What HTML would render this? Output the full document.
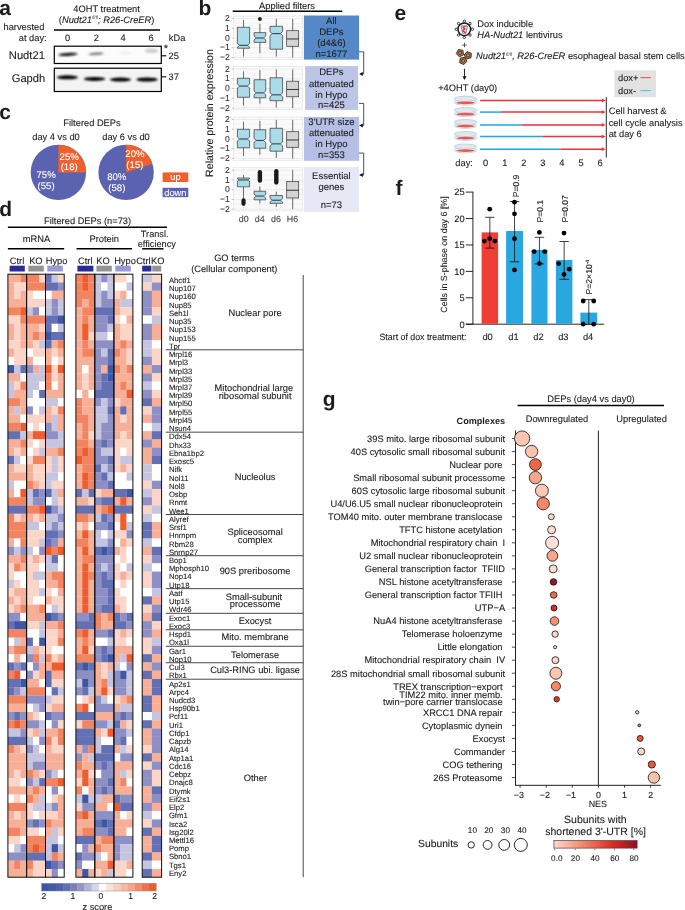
<!DOCTYPE html>
<html lang="en"><head><meta charset="utf-8"><title>Figure</title>
<style>
html,body{margin:0;padding:0;background:#fff;}
body{width:685px;height:910px;overflow:hidden;}
svg{display:block;font-family:"Liberation Sans", Arial, Helvetica, sans-serif;fill:#1c1c1c;text-rendering:geometricPrecision;}
</style></head><body>
<svg width="685" height="910" viewBox="0 0 685 910">
<defs>
<filter id="bl" x="-20%" y="-50%" width="140%" height="200%"><feGaussianBlur stdDeviation="1.1"/></filter>
<filter id="hb" x="0" y="0" width="100%" height="100%" filterUnits="userSpaceOnUse"><feGaussianBlur stdDeviation="0.55"/></filter>
<filter id="bl2" x="-20%" y="-50%" width="140%" height="200%"><feGaussianBlur stdDeviation="1.6"/></filter>
<linearGradient id="gr" x1="0" x2="1" y1="0" y2="0"><stop offset="0" stop-color="#fdd9cb"/><stop offset="0.35" stop-color="#f5876a"/><stop offset="0.7" stop-color="#dc2b27"/><stop offset="1" stop-color="#8e1220"/></linearGradient>
</defs>
<text x="-0.80" y="14.60" font-size="21" font-weight="bold">a</text>
<text x="198.60" y="15.00" font-size="21" font-weight="bold">b</text>
<text x="-0.80" y="118.80" font-size="21" font-weight="bold">c</text>
<text x="-0.80" y="215.80" font-size="21" font-weight="bold">d</text>
<text x="394.60" y="19.80" font-size="21" font-weight="bold">e</text>
<text x="395.60" y="195.00" font-size="21" font-weight="bold">f</text>
<text x="322.80" y="405.80" font-size="21" font-weight="bold">g</text>
<text x="106.60" y="11.50" font-size="9.3" text-anchor="middle" stroke="#1c1c1c" stroke-width="0.1">4OHT treatment</text>
<text x="106.60" y="22.60" font-size="9.3" text-anchor="middle" stroke="#1c1c1c" stroke-width="0.1">(<tspan font-style="italic">Nudt21<tspan font-size="4.8" dy="-3.2" stroke="none" fill="#444">fl/fl</tspan><tspan dy="3.2">; R26-CreER</tspan></tspan>)</text>
<line x1="54.00" y1="30.00" x2="160.00" y2="30.00" stroke="#000" stroke-width="1.5"/>
<text x="3.50" y="30.20" font-size="9.3" stroke="#1c1c1c" stroke-width="0.1">harvested</text>
<text x="46.70" y="41.40" font-size="9.3" text-anchor="end" stroke="#1c1c1c" stroke-width="0.1">at day:</text>
<text x="67.70" y="41.40" font-size="9.3" text-anchor="middle" stroke="#1c1c1c" stroke-width="0.1">0</text>
<text x="96.40" y="41.40" font-size="9.3" text-anchor="middle" stroke="#1c1c1c" stroke-width="0.1">2</text>
<text x="123.20" y="41.40" font-size="9.3" text-anchor="middle" stroke="#1c1c1c" stroke-width="0.1">4</text>
<text x="151.00" y="41.40" font-size="9.3" text-anchor="middle" stroke="#1c1c1c" stroke-width="0.1">6</text>
<text x="168.80" y="41.40" font-size="9.3" stroke="#1c1c1c" stroke-width="0.1">kDa</text>
<text x="8.80" y="58.60" font-size="11.2" stroke="#1c1c1c" stroke-width="0.1">Nudt21</text>
<text x="11.70" y="82.00" font-size="11.2" stroke="#1c1c1c" stroke-width="0.1">Gapdh</text>
<rect x="54.30" y="46.20" width="107.00" height="17.30" fill="#fcfcfc" stroke="#000" stroke-width="1.2"/>
<rect x="54.30" y="68.20" width="107.00" height="23.30" fill="#f3f3f3" stroke="#000" stroke-width="1.2"/>
<g filter="url(#bl)">
<ellipse cx="68" cy="54.4" rx="9.6" ry="1.5" fill="#0c0c0c" transform="rotate(-3 68 54.4)"/>
<ellipse cx="96" cy="53.8" rx="7.6" ry="1.3" fill="#7d7d7d" transform="rotate(-3 96 53.8)"/>
<ellipse cx="125" cy="52.8" rx="6" ry="0.9" fill="#e6e6e6"/>
<ellipse cx="151.5" cy="50.8" rx="7" ry="2.3" fill="#cfcfcf"/>
<ellipse cx="67.4" cy="77.3" rx="10.8" ry="2.0" fill="#050505"/>
<ellipse cx="94.5" cy="78.9" rx="10.8" ry="2.0" fill="#050505"/>
<ellipse cx="120.5" cy="79.6" rx="10.8" ry="2.0" fill="#050505"/>
<ellipse cx="147" cy="79.5" rx="10.8" ry="2.0" fill="#050505"/>
</g>
<text x="163.80" y="52.00" font-size="11" stroke="#1c1c1c" stroke-width="0.1">*</text>
<line x1="161.50" y1="55.80" x2="166.30" y2="55.80" stroke="#000" stroke-width="1.1"/>
<text x="168.50" y="59.20" font-size="9.3" stroke="#1c1c1c" stroke-width="0.1">25</text>
<line x1="161.50" y1="76.80" x2="166.30" y2="76.80" stroke="#000" stroke-width="1.1"/>
<text x="168.50" y="80.20" font-size="9.3" stroke="#1c1c1c" stroke-width="0.1">37</text>
<text x="92.00" y="125.60" font-size="9.3" text-anchor="middle" stroke="#1c1c1c" stroke-width="0.1">Filtered DEPs</text>
<text x="56.00" y="140.20" font-size="9.3" text-anchor="middle" stroke="#1c1c1c" stroke-width="0.1">day 4 vs d0</text>
<text x="126.00" y="140.20" font-size="9.3" text-anchor="middle" stroke="#1c1c1c" stroke-width="0.1">day 6 vs d0</text>
<circle cx="58.40" cy="172.40" r="27.70" fill="#5b62b0"/>
<path d="M58.4,172.4 L58.4,144.70000000000002 A27.7,27.7 0 0 1 86.10,172.40 Z" fill="#f0602c"/>
<circle cx="126.10" cy="172.40" r="27.70" fill="#5b62b0"/>
<path d="M126.1,172.4 L126.1,144.70000000000002 A27.7,27.7 0 0 1 152.44,163.84 Z" fill="#f0602c"/>
<text x="69.20" y="159.60" font-size="9.6" text-anchor="middle" fill="#ffffff" stroke="#ffffff" stroke-width="0.1">25%</text>
<text x="69.20" y="169.80" font-size="9.6" text-anchor="middle" fill="#ffffff" stroke="#ffffff" stroke-width="0.1">(18)</text>
<text x="46.10" y="177.70" font-size="9.6" text-anchor="middle" fill="#ffffff" stroke="#ffffff" stroke-width="0.1">75%</text>
<text x="46.10" y="188.80" font-size="9.6" text-anchor="middle" fill="#ffffff" stroke="#ffffff" stroke-width="0.1">(55)</text>
<text x="134.90" y="156.70" font-size="9.6" text-anchor="middle" fill="#ffffff" stroke="#ffffff" stroke-width="0.1">20%</text>
<text x="134.90" y="167.50" font-size="9.6" text-anchor="middle" fill="#ffffff" stroke="#ffffff" stroke-width="0.1">(15)</text>
<text x="116.80" y="179.50" font-size="9.6" text-anchor="middle" fill="#ffffff" stroke="#ffffff" stroke-width="0.1">80%</text>
<text x="116.80" y="190.80" font-size="9.6" text-anchor="middle" fill="#ffffff" stroke="#ffffff" stroke-width="0.1">(58)</text>
<rect x="162.60" y="172.40" width="25.70" height="9.60" fill="#f0602c"/>
<text x="175.40" y="179.80" font-size="9.3" text-anchor="middle" fill="#ffffff" stroke="#ffffff" stroke-width="0.1">up</text>
<rect x="162.60" y="187.80" width="25.70" height="9.40" fill="#5b62b0"/>
<text x="175.40" y="195.60" font-size="9.3" text-anchor="middle" fill="#ffffff" stroke="#ffffff" stroke-width="0.1">down</text>
<text x="287.00" y="8.60" font-size="9.3" text-anchor="middle" stroke="#1c1c1c" stroke-width="0.1">Applied filters</text>
<line x1="232.70" y1="11.20" x2="342.20" y2="11.20" stroke="#000" stroke-width="1.5"/>
<text x="213.20" y="113.00" font-size="10.6" text-anchor="middle" stroke="#1c1c1c" stroke-width="0.1" transform="rotate(-90 213.20 113.00)">Relative protein expression</text>
<rect x="233.60" y="16.00" width="68.60" height="43.30" fill="#fafafa" stroke="#d9d9d9" stroke-width="0.5"/>
<line x1="233.60" y1="57.50" x2="302.20" y2="57.50" stroke="#dedede" stroke-width="0.5"/>
<line x1="231.60" y1="57.50" x2="233.60" y2="57.50" stroke="#888" stroke-width="0.5"/>
<text x="229.80" y="60.10" font-size="8.6" text-anchor="end" fill="#333" stroke="#333" stroke-width="0.1">−2</text>
<line x1="233.60" y1="47.75" x2="302.20" y2="47.75" stroke="#dedede" stroke-width="0.5"/>
<line x1="231.60" y1="47.75" x2="233.60" y2="47.75" stroke="#888" stroke-width="0.5"/>
<text x="229.80" y="50.35" font-size="8.6" text-anchor="end" fill="#333" stroke="#333" stroke-width="0.1">−1</text>
<line x1="233.60" y1="38.00" x2="302.20" y2="38.00" stroke="#dedede" stroke-width="0.5"/>
<line x1="231.60" y1="38.00" x2="233.60" y2="38.00" stroke="#888" stroke-width="0.5"/>
<text x="229.80" y="40.60" font-size="8.6" text-anchor="end" fill="#333" stroke="#333" stroke-width="0.1">0</text>
<line x1="233.60" y1="28.25" x2="302.20" y2="28.25" stroke="#dedede" stroke-width="0.5"/>
<line x1="231.60" y1="28.25" x2="233.60" y2="28.25" stroke="#888" stroke-width="0.5"/>
<text x="229.80" y="30.85" font-size="8.6" text-anchor="end" fill="#333" stroke="#333" stroke-width="0.1">1</text>
<line x1="233.60" y1="18.50" x2="302.20" y2="18.50" stroke="#dedede" stroke-width="0.5"/>
<line x1="231.60" y1="18.50" x2="233.60" y2="18.50" stroke="#888" stroke-width="0.5"/>
<text x="229.80" y="21.10" font-size="8.6" text-anchor="end" fill="#333" stroke="#333" stroke-width="0.1">2</text>
<line x1="233.60" y1="52.62" x2="302.20" y2="52.62" stroke="#e6e6e6" stroke-width="0.3"/>
<line x1="233.60" y1="42.88" x2="302.20" y2="42.88" stroke="#e6e6e6" stroke-width="0.3"/>
<line x1="233.60" y1="33.12" x2="302.20" y2="33.12" stroke="#e6e6e6" stroke-width="0.3"/>
<line x1="233.60" y1="23.38" x2="302.20" y2="23.38" stroke="#e6e6e6" stroke-width="0.3"/>
<line x1="243.50" y1="16.00" x2="243.50" y2="59.30" stroke="#dedede" stroke-width="0.5"/>
<line x1="259.90" y1="16.00" x2="259.90" y2="59.30" stroke="#dedede" stroke-width="0.5"/>
<line x1="276.30" y1="16.00" x2="276.30" y2="59.30" stroke="#dedede" stroke-width="0.5"/>
<line x1="292.70" y1="16.00" x2="292.70" y2="59.30" stroke="#dedede" stroke-width="0.5"/>
<line x1="243.50" y1="19.96" x2="243.50" y2="27.27" stroke="#333" stroke-width="0.7"/>
<line x1="243.50" y1="48.24" x2="243.50" y2="56.52" stroke="#333" stroke-width="0.7"/>
<polygon points="237.40,27.27 249.60,27.27 249.60,43.56 247.28,45.31 249.60,47.07 249.60,48.24 237.40,48.24 237.40,47.07 239.72,45.31 237.40,43.56" fill="#a9dbe8" stroke="#333" stroke-width="0.7"/>
<line x1="239.72" y1="45.31" x2="247.28" y2="45.31" stroke="#222" stroke-width="0.9"/>
<line x1="259.90" y1="23.86" x2="259.90" y2="32.64" stroke="#333" stroke-width="0.7"/>
<line x1="259.90" y1="42.39" x2="259.90" y2="53.11" stroke="#333" stroke-width="0.7"/>
<polygon points="254.05,32.64 265.75,32.64 265.75,36.05 263.53,38.00 265.75,39.95 265.75,42.39 254.05,42.39 254.05,39.95 256.27,38.00 254.05,36.05" fill="#a9dbe8" stroke="#333" stroke-width="0.7"/>
<line x1="256.27" y1="38.00" x2="263.53" y2="38.00" stroke="#222" stroke-width="0.9"/>
<line x1="276.30" y1="18.99" x2="276.30" y2="26.30" stroke="#333" stroke-width="0.7"/>
<line x1="276.30" y1="49.21" x2="276.30" y2="56.52" stroke="#333" stroke-width="0.7"/>
<polygon points="270.00,26.30 282.60,26.30 282.60,31.66 280.21,33.61 282.60,35.56 282.60,49.21 270.00,49.21 270.00,35.56 272.39,33.61 270.00,31.66" fill="#a9dbe8" stroke="#333" stroke-width="0.7"/>
<line x1="272.39" y1="33.61" x2="280.21" y2="33.61" stroke="#222" stroke-width="0.9"/>
<line x1="292.70" y1="18.99" x2="292.70" y2="30.69" stroke="#333" stroke-width="0.7"/>
<line x1="292.70" y1="46.29" x2="292.70" y2="57.50" stroke="#333" stroke-width="0.7"/>
<rect x="286.70" y="30.69" width="12.00" height="15.60" fill="#d4d4d4" stroke="#333" stroke-width="0.7"/>
<line x1="286.70" y1="38.98" x2="298.70" y2="38.98" stroke="#222" stroke-width="0.9"/>
<circle cx="259.90" cy="18.99" r="2.00" fill="#222"/>
<rect x="303.90" y="15.50" width="55.20" height="44.10" fill="#5488c7"/>
<text x="331.40" y="23.80" font-size="9.5" text-anchor="middle" fill="#222" stroke="#222" stroke-width="0.1">All</text>
<text x="331.40" y="34.80" font-size="9.5" text-anchor="middle" fill="#222" stroke="#222" stroke-width="0.1">DEPs</text>
<text x="331.40" y="46.00" font-size="9.5" text-anchor="middle" fill="#222" stroke="#222" stroke-width="0.1">(d4&amp;6)</text>
<text x="331.40" y="56.70" font-size="9.5" text-anchor="middle" fill="#222" stroke="#222" stroke-width="0.1">n=1677</text>
<rect x="233.60" y="66.50" width="68.60" height="43.30" fill="#fafafa" stroke="#d9d9d9" stroke-width="0.5"/>
<line x1="233.60" y1="108.00" x2="302.20" y2="108.00" stroke="#dedede" stroke-width="0.5"/>
<line x1="231.60" y1="108.00" x2="233.60" y2="108.00" stroke="#888" stroke-width="0.5"/>
<text x="229.80" y="110.60" font-size="8.6" text-anchor="end" fill="#333" stroke="#333" stroke-width="0.1">−2</text>
<line x1="233.60" y1="98.25" x2="302.20" y2="98.25" stroke="#dedede" stroke-width="0.5"/>
<line x1="231.60" y1="98.25" x2="233.60" y2="98.25" stroke="#888" stroke-width="0.5"/>
<text x="229.80" y="100.85" font-size="8.6" text-anchor="end" fill="#333" stroke="#333" stroke-width="0.1">−1</text>
<line x1="233.60" y1="88.50" x2="302.20" y2="88.50" stroke="#dedede" stroke-width="0.5"/>
<line x1="231.60" y1="88.50" x2="233.60" y2="88.50" stroke="#888" stroke-width="0.5"/>
<text x="229.80" y="91.10" font-size="8.6" text-anchor="end" fill="#333" stroke="#333" stroke-width="0.1">0</text>
<line x1="233.60" y1="78.75" x2="302.20" y2="78.75" stroke="#dedede" stroke-width="0.5"/>
<line x1="231.60" y1="78.75" x2="233.60" y2="78.75" stroke="#888" stroke-width="0.5"/>
<text x="229.80" y="81.35" font-size="8.6" text-anchor="end" fill="#333" stroke="#333" stroke-width="0.1">1</text>
<line x1="233.60" y1="69.00" x2="302.20" y2="69.00" stroke="#dedede" stroke-width="0.5"/>
<line x1="231.60" y1="69.00" x2="233.60" y2="69.00" stroke="#888" stroke-width="0.5"/>
<text x="229.80" y="71.60" font-size="8.6" text-anchor="end" fill="#333" stroke="#333" stroke-width="0.1">2</text>
<line x1="233.60" y1="103.12" x2="302.20" y2="103.12" stroke="#e6e6e6" stroke-width="0.3"/>
<line x1="233.60" y1="93.38" x2="302.20" y2="93.38" stroke="#e6e6e6" stroke-width="0.3"/>
<line x1="233.60" y1="83.62" x2="302.20" y2="83.62" stroke="#e6e6e6" stroke-width="0.3"/>
<line x1="233.60" y1="73.88" x2="302.20" y2="73.88" stroke="#e6e6e6" stroke-width="0.3"/>
<line x1="243.50" y1="66.50" x2="243.50" y2="109.80" stroke="#dedede" stroke-width="0.5"/>
<line x1="259.90" y1="66.50" x2="259.90" y2="109.80" stroke="#dedede" stroke-width="0.5"/>
<line x1="276.30" y1="66.50" x2="276.30" y2="109.80" stroke="#dedede" stroke-width="0.5"/>
<line x1="292.70" y1="66.50" x2="292.70" y2="109.80" stroke="#dedede" stroke-width="0.5"/>
<line x1="243.50" y1="71.44" x2="243.50" y2="78.26" stroke="#333" stroke-width="0.7"/>
<line x1="243.50" y1="97.28" x2="243.50" y2="105.56" stroke="#333" stroke-width="0.7"/>
<polygon points="237.40,78.26 249.60,78.26 249.60,84.11 247.28,86.06 249.60,88.01 249.60,97.28 237.40,97.28 237.40,88.01 239.72,86.06 237.40,84.11" fill="#a9dbe8" stroke="#333" stroke-width="0.7"/>
<line x1="239.72" y1="86.06" x2="247.28" y2="86.06" stroke="#222" stroke-width="0.9"/>
<line x1="259.90" y1="69.97" x2="259.90" y2="79.72" stroke="#333" stroke-width="0.7"/>
<line x1="259.90" y1="97.76" x2="259.90" y2="103.61" stroke="#333" stroke-width="0.7"/>
<polygon points="254.05,79.72 265.75,79.72 265.75,90.94 263.53,92.89 265.75,94.84 265.75,97.76 254.05,97.76 254.05,94.84 256.27,92.89 254.05,90.94" fill="#a9dbe8" stroke="#333" stroke-width="0.7"/>
<line x1="256.27" y1="92.89" x2="263.53" y2="92.89" stroke="#222" stroke-width="0.9"/>
<line x1="276.30" y1="69.49" x2="276.30" y2="77.78" stroke="#333" stroke-width="0.7"/>
<line x1="276.30" y1="100.69" x2="276.30" y2="107.51" stroke="#333" stroke-width="0.7"/>
<polygon points="270.00,77.78 282.60,77.78 282.60,92.89 280.21,94.84 282.60,96.79 282.60,100.69 270.00,100.69 270.00,96.79 272.39,94.84 270.00,92.89" fill="#a9dbe8" stroke="#333" stroke-width="0.7"/>
<line x1="272.39" y1="94.84" x2="280.21" y2="94.84" stroke="#222" stroke-width="0.9"/>
<line x1="292.70" y1="69.49" x2="292.70" y2="81.19" stroke="#333" stroke-width="0.7"/>
<line x1="292.70" y1="96.79" x2="292.70" y2="108.00" stroke="#333" stroke-width="0.7"/>
<rect x="286.70" y="81.19" width="12.00" height="15.60" fill="#d4d4d4" stroke="#333" stroke-width="0.7"/>
<line x1="286.70" y1="89.47" x2="298.70" y2="89.47" stroke="#222" stroke-width="0.9"/>
<rect x="305.10" y="66.10" width="53.00" height="43.80" fill="#bcc5e6"/>
<text x="331.40" y="75.40" font-size="9.5" text-anchor="middle" fill="#222" stroke="#222" stroke-width="0.1">DEPs</text>
<text x="331.40" y="87.10" font-size="9.5" text-anchor="middle" fill="#222" stroke="#222" stroke-width="0.1">attenuated</text>
<text x="331.40" y="98.40" font-size="9.5" text-anchor="middle" fill="#222" stroke="#222" stroke-width="0.1">in Hypo</text>
<text x="331.40" y="107.50" font-size="9.5" text-anchor="middle" fill="#222" stroke="#222" stroke-width="0.1">n=425</text>
<rect x="233.60" y="117.00" width="68.60" height="43.30" fill="#fafafa" stroke="#d9d9d9" stroke-width="0.5"/>
<line x1="233.60" y1="158.50" x2="302.20" y2="158.50" stroke="#dedede" stroke-width="0.5"/>
<line x1="231.60" y1="158.50" x2="233.60" y2="158.50" stroke="#888" stroke-width="0.5"/>
<text x="229.80" y="161.10" font-size="8.6" text-anchor="end" fill="#333" stroke="#333" stroke-width="0.1">−2</text>
<line x1="233.60" y1="148.75" x2="302.20" y2="148.75" stroke="#dedede" stroke-width="0.5"/>
<line x1="231.60" y1="148.75" x2="233.60" y2="148.75" stroke="#888" stroke-width="0.5"/>
<text x="229.80" y="151.35" font-size="8.6" text-anchor="end" fill="#333" stroke="#333" stroke-width="0.1">−1</text>
<line x1="233.60" y1="139.00" x2="302.20" y2="139.00" stroke="#dedede" stroke-width="0.5"/>
<line x1="231.60" y1="139.00" x2="233.60" y2="139.00" stroke="#888" stroke-width="0.5"/>
<text x="229.80" y="141.60" font-size="8.6" text-anchor="end" fill="#333" stroke="#333" stroke-width="0.1">0</text>
<line x1="233.60" y1="129.25" x2="302.20" y2="129.25" stroke="#dedede" stroke-width="0.5"/>
<line x1="231.60" y1="129.25" x2="233.60" y2="129.25" stroke="#888" stroke-width="0.5"/>
<text x="229.80" y="131.85" font-size="8.6" text-anchor="end" fill="#333" stroke="#333" stroke-width="0.1">1</text>
<line x1="233.60" y1="119.50" x2="302.20" y2="119.50" stroke="#dedede" stroke-width="0.5"/>
<line x1="231.60" y1="119.50" x2="233.60" y2="119.50" stroke="#888" stroke-width="0.5"/>
<text x="229.80" y="122.10" font-size="8.6" text-anchor="end" fill="#333" stroke="#333" stroke-width="0.1">2</text>
<line x1="233.60" y1="153.62" x2="302.20" y2="153.62" stroke="#e6e6e6" stroke-width="0.3"/>
<line x1="233.60" y1="143.88" x2="302.20" y2="143.88" stroke="#e6e6e6" stroke-width="0.3"/>
<line x1="233.60" y1="134.12" x2="302.20" y2="134.12" stroke="#e6e6e6" stroke-width="0.3"/>
<line x1="233.60" y1="124.38" x2="302.20" y2="124.38" stroke="#e6e6e6" stroke-width="0.3"/>
<line x1="243.50" y1="117.00" x2="243.50" y2="160.30" stroke="#dedede" stroke-width="0.5"/>
<line x1="259.90" y1="117.00" x2="259.90" y2="160.30" stroke="#dedede" stroke-width="0.5"/>
<line x1="276.30" y1="117.00" x2="276.30" y2="160.30" stroke="#dedede" stroke-width="0.5"/>
<line x1="292.70" y1="117.00" x2="292.70" y2="160.30" stroke="#dedede" stroke-width="0.5"/>
<line x1="243.50" y1="121.94" x2="243.50" y2="129.25" stroke="#333" stroke-width="0.7"/>
<line x1="243.50" y1="147.78" x2="243.50" y2="156.06" stroke="#333" stroke-width="0.7"/>
<polygon points="237.40,129.25 249.60,129.25 249.60,137.05 247.28,139.00 249.60,140.95 249.60,147.78 237.40,147.78 237.40,140.95 239.72,139.00 237.40,137.05" fill="#a9dbe8" stroke="#333" stroke-width="0.7"/>
<line x1="239.72" y1="139.00" x2="247.28" y2="139.00" stroke="#222" stroke-width="0.9"/>
<line x1="259.90" y1="120.96" x2="259.90" y2="129.74" stroke="#333" stroke-width="0.7"/>
<line x1="259.90" y1="148.26" x2="259.90" y2="154.60" stroke="#333" stroke-width="0.7"/>
<polygon points="254.05,129.74 265.75,129.74 265.75,138.51 263.53,140.46 265.75,142.41 265.75,148.26 254.05,148.26 254.05,142.41 256.27,140.46 254.05,138.51" fill="#a9dbe8" stroke="#333" stroke-width="0.7"/>
<line x1="256.27" y1="140.46" x2="263.53" y2="140.46" stroke="#222" stroke-width="0.9"/>
<line x1="276.30" y1="119.99" x2="276.30" y2="128.28" stroke="#333" stroke-width="0.7"/>
<line x1="276.30" y1="151.19" x2="276.30" y2="158.01" stroke="#333" stroke-width="0.7"/>
<polygon points="270.00,128.28 282.60,128.28 282.60,141.93 280.21,143.88 282.60,145.82 282.60,151.19 270.00,151.19 270.00,145.82 272.39,143.88 270.00,141.93" fill="#a9dbe8" stroke="#333" stroke-width="0.7"/>
<line x1="272.39" y1="143.88" x2="280.21" y2="143.88" stroke="#222" stroke-width="0.9"/>
<line x1="292.70" y1="119.99" x2="292.70" y2="131.69" stroke="#333" stroke-width="0.7"/>
<line x1="292.70" y1="147.29" x2="292.70" y2="158.50" stroke="#333" stroke-width="0.7"/>
<rect x="286.70" y="131.69" width="12.00" height="15.60" fill="#d4d4d4" stroke="#333" stroke-width="0.7"/>
<line x1="286.70" y1="139.97" x2="298.70" y2="139.97" stroke="#222" stroke-width="0.9"/>
<rect x="303.90" y="116.90" width="55.20" height="43.90" fill="#b5bfe5"/>
<text x="331.40" y="124.60" font-size="9.5" text-anchor="middle" fill="#222" stroke="#222" stroke-width="0.1">3'UTR size</text>
<text x="331.40" y="135.90" font-size="9.5" text-anchor="middle" fill="#222" stroke="#222" stroke-width="0.1">attenuated</text>
<text x="331.40" y="146.70" font-size="9.5" text-anchor="middle" fill="#222" stroke="#222" stroke-width="0.1">in Hypo</text>
<text x="331.40" y="157.50" font-size="9.5" text-anchor="middle" fill="#222" stroke="#222" stroke-width="0.1">n=353</text>
<rect x="233.60" y="167.70" width="68.60" height="43.30" fill="#fafafa" stroke="#d9d9d9" stroke-width="0.5"/>
<line x1="233.60" y1="209.20" x2="302.20" y2="209.20" stroke="#dedede" stroke-width="0.5"/>
<line x1="231.60" y1="209.20" x2="233.60" y2="209.20" stroke="#888" stroke-width="0.5"/>
<text x="229.80" y="211.80" font-size="8.6" text-anchor="end" fill="#333" stroke="#333" stroke-width="0.1">−2</text>
<line x1="233.60" y1="199.45" x2="302.20" y2="199.45" stroke="#dedede" stroke-width="0.5"/>
<line x1="231.60" y1="199.45" x2="233.60" y2="199.45" stroke="#888" stroke-width="0.5"/>
<text x="229.80" y="202.05" font-size="8.6" text-anchor="end" fill="#333" stroke="#333" stroke-width="0.1">−1</text>
<line x1="233.60" y1="189.70" x2="302.20" y2="189.70" stroke="#dedede" stroke-width="0.5"/>
<line x1="231.60" y1="189.70" x2="233.60" y2="189.70" stroke="#888" stroke-width="0.5"/>
<text x="229.80" y="192.30" font-size="8.6" text-anchor="end" fill="#333" stroke="#333" stroke-width="0.1">0</text>
<line x1="233.60" y1="179.95" x2="302.20" y2="179.95" stroke="#dedede" stroke-width="0.5"/>
<line x1="231.60" y1="179.95" x2="233.60" y2="179.95" stroke="#888" stroke-width="0.5"/>
<text x="229.80" y="182.55" font-size="8.6" text-anchor="end" fill="#333" stroke="#333" stroke-width="0.1">1</text>
<line x1="233.60" y1="170.20" x2="302.20" y2="170.20" stroke="#dedede" stroke-width="0.5"/>
<line x1="231.60" y1="170.20" x2="233.60" y2="170.20" stroke="#888" stroke-width="0.5"/>
<text x="229.80" y="172.80" font-size="8.6" text-anchor="end" fill="#333" stroke="#333" stroke-width="0.1">2</text>
<line x1="233.60" y1="204.32" x2="302.20" y2="204.32" stroke="#e6e6e6" stroke-width="0.3"/>
<line x1="233.60" y1="194.57" x2="302.20" y2="194.57" stroke="#e6e6e6" stroke-width="0.3"/>
<line x1="233.60" y1="184.82" x2="302.20" y2="184.82" stroke="#e6e6e6" stroke-width="0.3"/>
<line x1="233.60" y1="175.07" x2="302.20" y2="175.07" stroke="#e6e6e6" stroke-width="0.3"/>
<line x1="243.50" y1="167.70" x2="243.50" y2="211.00" stroke="#dedede" stroke-width="0.5"/>
<line x1="259.90" y1="167.70" x2="259.90" y2="211.00" stroke="#dedede" stroke-width="0.5"/>
<line x1="276.30" y1="167.70" x2="276.30" y2="211.00" stroke="#dedede" stroke-width="0.5"/>
<line x1="292.70" y1="167.70" x2="292.70" y2="211.00" stroke="#dedede" stroke-width="0.5"/>
<line x1="243.50" y1="175.07" x2="243.50" y2="178.00" stroke="#333" stroke-width="0.7"/>
<line x1="243.50" y1="186.87" x2="243.50" y2="198.47" stroke="#333" stroke-width="0.7"/>
<polygon points="237.40,178.00 249.60,178.00 249.60,178.78 247.28,179.95 249.60,181.12 249.60,186.87 237.40,186.87 237.40,181.12 239.72,179.95 237.40,178.78" fill="#a9dbe8" stroke="#333" stroke-width="0.7"/>
<line x1="239.72" y1="179.95" x2="247.28" y2="179.95" stroke="#222" stroke-width="0.9"/>
<line x1="259.90" y1="186.48" x2="259.90" y2="191.26" stroke="#333" stroke-width="0.7"/>
<line x1="259.90" y1="199.84" x2="259.90" y2="203.35" stroke="#333" stroke-width="0.7"/>
<polygon points="254.05,191.26 265.75,191.26 265.75,194.09 263.53,196.04 265.75,197.99 265.75,199.84 254.05,199.84 254.05,197.99 256.27,196.04 254.05,194.09" fill="#a9dbe8" stroke="#333" stroke-width="0.7"/>
<line x1="256.27" y1="196.04" x2="263.53" y2="196.04" stroke="#222" stroke-width="0.9"/>
<line x1="276.30" y1="191.65" x2="276.30" y2="195.55" stroke="#333" stroke-width="0.7"/>
<line x1="276.30" y1="203.35" x2="276.30" y2="206.96" stroke="#333" stroke-width="0.7"/>
<polygon points="270.00,195.55 282.60,195.55 282.60,198.36 280.21,200.23 282.60,202.10 282.60,203.35 270.00,203.35 270.00,202.10 272.39,200.23 270.00,198.36" fill="#a9dbe8" stroke="#333" stroke-width="0.7"/>
<line x1="272.39" y1="200.23" x2="280.21" y2="200.23" stroke="#222" stroke-width="0.9"/>
<line x1="292.70" y1="170.20" x2="292.70" y2="181.61" stroke="#333" stroke-width="0.7"/>
<line x1="292.70" y1="197.99" x2="292.70" y2="209.20" stroke="#333" stroke-width="0.7"/>
<rect x="286.70" y="181.61" width="12.00" height="16.38" fill="#d4d4d4" stroke="#333" stroke-width="0.7"/>
<line x1="286.70" y1="190.28" x2="298.70" y2="190.28" stroke="#222" stroke-width="0.9"/>
<line x1="243.50" y1="200.42" x2="243.50" y2="203.84" stroke="#1a1a1a" stroke-width="4.2" stroke-linecap="round"/>
<line x1="259.90" y1="180.44" x2="259.90" y2="172.15" stroke="#1a1a1a" stroke-width="4.4" stroke-linecap="round"/>
<line x1="276.30" y1="182.39" x2="276.30" y2="171.17" stroke="#1a1a1a" stroke-width="4.4" stroke-linecap="round"/>
<rect x="303.90" y="167.10" width="55.20" height="44.80" fill="#e6e8f6"/>
<text x="331.40" y="178.80" font-size="9.5" text-anchor="middle" fill="#222" stroke="#222" stroke-width="0.1">Essential</text>
<text x="331.40" y="190.00" font-size="9.5" text-anchor="middle" fill="#222" stroke="#222" stroke-width="0.1">genes</text>
<text x="331.40" y="207.50" font-size="9.5" text-anchor="middle" fill="#222" stroke="#222" stroke-width="0.1">n=73</text>
<text x="243.70" y="222.10" font-size="8.9" text-anchor="middle" fill="#444" stroke="#444" stroke-width="0.1">d0</text>
<text x="259.80" y="222.10" font-size="8.9" text-anchor="middle" fill="#444" stroke="#444" stroke-width="0.1">d4</text>
<text x="275.90" y="222.10" font-size="8.9" text-anchor="middle" fill="#444" stroke="#444" stroke-width="0.1">d6</text>
<text x="292.40" y="222.10" font-size="8.9" text-anchor="middle" fill="#444" stroke="#444" stroke-width="0.1">H6</text>
<path d="M359.1,51.8 H363.7 V73.9 H361.5" fill="none" stroke="#222" stroke-width="0.8"/>
<path d="M359.2,73.9 l3.6,-2 v4 z" fill="#111"/>
<path d="M359.1,103.4 H363.7 V125.4 H361.5" fill="none" stroke="#222" stroke-width="0.8"/>
<path d="M359.2,125.4 l3.6,-2 v4 z" fill="#111"/>
<path d="M359.1,153.1 H363.7 V175.1 H361.5" fill="none" stroke="#222" stroke-width="0.8"/>
<path d="M359.2,175.1 l3.6,-2 v4 z" fill="#111"/>
<text x="87.60" y="223.70" font-size="9.3" text-anchor="middle" stroke="#1c1c1c" stroke-width="0.1">Filtered DEPs (n=73)</text>
<line x1="7.90" y1="227.20" x2="167.00" y2="227.20" stroke="#000" stroke-width="1.5"/>
<text x="36.50" y="241.80" font-size="9.3" text-anchor="middle" stroke="#1c1c1c" stroke-width="0.1">mRNA</text>
<text x="104.20" y="241.80" font-size="9.3" text-anchor="middle" stroke="#1c1c1c" stroke-width="0.1">Protein</text>
<text x="154.70" y="236.80" font-size="9.2" text-anchor="middle" stroke="#1c1c1c" stroke-width="0.1">Transl.</text>
<text x="156.80" y="246.90" font-size="9.2" text-anchor="middle" stroke="#1c1c1c" stroke-width="0.1">efficiency</text>
<line x1="7.90" y1="248.80" x2="64.20" y2="248.80" stroke="#000" stroke-width="1.5"/>
<line x1="76.50" y1="248.80" x2="132.00" y2="248.80" stroke="#000" stroke-width="1.5"/>
<line x1="142.20" y1="248.80" x2="163.50" y2="248.80" stroke="#000" stroke-width="1.5"/>
<text x="17.00" y="263.60" font-size="9.3" text-anchor="middle" stroke="#1c1c1c" stroke-width="0.1">Ctrl</text>
<text x="35.90" y="263.60" font-size="9.3" text-anchor="middle" stroke="#1c1c1c" stroke-width="0.1">KO</text>
<text x="56.60" y="263.60" font-size="9.3" text-anchor="middle" stroke="#1c1c1c" stroke-width="0.1">Hypo</text>
<text x="85.30" y="263.60" font-size="9.3" text-anchor="middle" stroke="#1c1c1c" stroke-width="0.1">Ctrl</text>
<text x="103.00" y="263.60" font-size="9.3" text-anchor="middle" stroke="#1c1c1c" stroke-width="0.1">KO</text>
<text x="125.00" y="263.60" font-size="9.3" text-anchor="middle" stroke="#1c1c1c" stroke-width="0.1">Hypo</text>
<text x="143.40" y="263.60" font-size="9.3" text-anchor="middle" stroke="#1c1c1c" stroke-width="0.1">Ctrl</text>
<text x="157.80" y="263.60" font-size="9.3" text-anchor="middle" stroke="#1c1c1c" stroke-width="0.1">KO</text>
<rect x="9.60" y="265.70" width="15.20" height="5.80" fill="#2b2b96"/>
<rect x="28.30" y="265.70" width="15.50" height="5.80" fill="#939393"/>
<rect x="47.30" y="265.70" width="15.50" height="5.80" fill="#9b98d6"/>
<rect x="77.40" y="265.70" width="16.00" height="5.80" fill="#2b2b96"/>
<rect x="96.40" y="265.70" width="15.40" height="5.80" fill="#939393"/>
<rect x="115.30" y="265.70" width="15.50" height="5.80" fill="#9b98d6"/>
<rect x="142.20" y="265.70" width="9.20" height="5.80" fill="#2b2b96"/>
<rect x="152.20" y="265.70" width="9.00" height="5.80" fill="#939393"/>
<text x="234.30" y="261.20" font-size="9.3" text-anchor="middle" stroke="#1c1c1c" stroke-width="0.1">GO terms</text>
<text x="234.30" y="272.40" font-size="9.3" text-anchor="middle" stroke="#1c1c1c" stroke-width="0.1">(Cellular component)</text>
<text x="168.90" y="282.95" font-size="7.7" stroke="#1c1c1c" stroke-width="0.1">Ahctf1</text>
<text x="168.90" y="291.19" font-size="7.7" stroke="#1c1c1c" stroke-width="0.1">Nup107</text>
<text x="168.90" y="299.42" font-size="7.7" stroke="#1c1c1c" stroke-width="0.1">Nup160</text>
<text x="168.90" y="307.66" font-size="7.7" stroke="#1c1c1c" stroke-width="0.1">Nup85</text>
<text x="168.90" y="315.89" font-size="7.7" stroke="#1c1c1c" stroke-width="0.1">Seh1l</text>
<text x="168.90" y="324.13" font-size="7.7" stroke="#1c1c1c" stroke-width="0.1">Nup35</text>
<text x="168.90" y="332.37" font-size="7.7" stroke="#1c1c1c" stroke-width="0.1">Nup153</text>
<text x="168.90" y="340.60" font-size="7.7" stroke="#1c1c1c" stroke-width="0.1">Nup155</text>
<text x="168.90" y="348.84" font-size="7.7" stroke="#1c1c1c" stroke-width="0.1">Tpr</text>
<text x="168.90" y="357.07" font-size="7.7" stroke="#1c1c1c" stroke-width="0.1">Mrpl16</text>
<text x="168.90" y="365.31" font-size="7.7" stroke="#1c1c1c" stroke-width="0.1">Mrpl3</text>
<text x="168.90" y="373.55" font-size="7.7" stroke="#1c1c1c" stroke-width="0.1">Mrpl33</text>
<text x="168.90" y="381.78" font-size="7.7" stroke="#1c1c1c" stroke-width="0.1">Mrpl35</text>
<text x="168.90" y="390.02" font-size="7.7" stroke="#1c1c1c" stroke-width="0.1">Mrpl37</text>
<text x="168.90" y="398.25" font-size="7.7" stroke="#1c1c1c" stroke-width="0.1">Mrpl39</text>
<text x="168.90" y="406.49" font-size="7.7" stroke="#1c1c1c" stroke-width="0.1">Mrpl50</text>
<text x="168.90" y="414.73" font-size="7.7" stroke="#1c1c1c" stroke-width="0.1">Mrpl55</text>
<text x="168.90" y="422.96" font-size="7.7" stroke="#1c1c1c" stroke-width="0.1">Mrpl45</text>
<text x="168.90" y="431.20" font-size="7.7" stroke="#1c1c1c" stroke-width="0.1">Nsun4</text>
<text x="168.90" y="439.43" font-size="7.7" stroke="#1c1c1c" stroke-width="0.1">Ddx54</text>
<text x="168.90" y="447.67" font-size="7.7" stroke="#1c1c1c" stroke-width="0.1">Dhx33</text>
<text x="168.90" y="455.91" font-size="7.7" stroke="#1c1c1c" stroke-width="0.1">Ebna1bp2</text>
<text x="168.90" y="464.14" font-size="7.7" stroke="#1c1c1c" stroke-width="0.1">Exosc5</text>
<text x="168.90" y="472.38" font-size="7.7" stroke="#1c1c1c" stroke-width="0.1">Nifk</text>
<text x="168.90" y="480.61" font-size="7.7" stroke="#1c1c1c" stroke-width="0.1">Nol11</text>
<text x="168.90" y="488.85" font-size="7.7" stroke="#1c1c1c" stroke-width="0.1">Nol8</text>
<text x="168.90" y="497.09" font-size="7.7" stroke="#1c1c1c" stroke-width="0.1">Osbp</text>
<text x="168.90" y="505.32" font-size="7.7" stroke="#1c1c1c" stroke-width="0.1">Rnmt</text>
<text x="168.90" y="513.56" font-size="7.7" stroke="#1c1c1c" stroke-width="0.1">Wee1</text>
<text x="168.90" y="521.79" font-size="7.7" stroke="#1c1c1c" stroke-width="0.1">Alyref</text>
<text x="168.90" y="530.03" font-size="7.7" stroke="#1c1c1c" stroke-width="0.1">Srsf1</text>
<text x="168.90" y="538.27" font-size="7.7" stroke="#1c1c1c" stroke-width="0.1">Hnrnpm</text>
<text x="168.90" y="546.50" font-size="7.7" stroke="#1c1c1c" stroke-width="0.1">Rbm28</text>
<text x="168.90" y="554.74" font-size="7.7" stroke="#1c1c1c" stroke-width="0.1">Snrnp27</text>
<text x="168.90" y="562.97" font-size="7.7" stroke="#1c1c1c" stroke-width="0.1">Bop1</text>
<text x="168.90" y="571.21" font-size="7.7" stroke="#1c1c1c" stroke-width="0.1">Mphosph10</text>
<text x="168.90" y="579.45" font-size="7.7" stroke="#1c1c1c" stroke-width="0.1">Nop14</text>
<text x="168.90" y="587.68" font-size="7.7" stroke="#1c1c1c" stroke-width="0.1">Utp18</text>
<text x="168.90" y="595.92" font-size="7.7" stroke="#1c1c1c" stroke-width="0.1">Aatf</text>
<text x="168.90" y="604.15" font-size="7.7" stroke="#1c1c1c" stroke-width="0.1">Utp15</text>
<text x="168.90" y="612.39" font-size="7.7" stroke="#1c1c1c" stroke-width="0.1">Wdr46</text>
<text x="168.90" y="620.63" font-size="7.7" stroke="#1c1c1c" stroke-width="0.1">Exoc1</text>
<text x="168.90" y="628.86" font-size="7.7" stroke="#1c1c1c" stroke-width="0.1">Exoc3</text>
<text x="168.90" y="637.10" font-size="7.7" stroke="#1c1c1c" stroke-width="0.1">Hspd1</text>
<text x="168.90" y="645.33" font-size="7.7" stroke="#1c1c1c" stroke-width="0.1">Oxa1l</text>
<text x="168.90" y="653.57" font-size="7.7" stroke="#1c1c1c" stroke-width="0.1">Gar1</text>
<text x="168.90" y="661.81" font-size="7.7" stroke="#1c1c1c" stroke-width="0.1">Nop10</text>
<text x="168.90" y="670.04" font-size="7.7" stroke="#1c1c1c" stroke-width="0.1">Cul3</text>
<text x="168.90" y="678.28" font-size="7.7" stroke="#1c1c1c" stroke-width="0.1">Rbx1</text>
<text x="168.90" y="686.51" font-size="7.7" stroke="#1c1c1c" stroke-width="0.1">Ap2s1</text>
<text x="168.90" y="694.75" font-size="7.7" stroke="#1c1c1c" stroke-width="0.1">Arpc4</text>
<text x="168.90" y="702.99" font-size="7.7" stroke="#1c1c1c" stroke-width="0.1">Nudcd3</text>
<text x="168.90" y="711.22" font-size="7.7" stroke="#1c1c1c" stroke-width="0.1">Hsp90b1</text>
<text x="168.90" y="719.46" font-size="7.7" stroke="#1c1c1c" stroke-width="0.1">Pcf11</text>
<text x="168.90" y="727.69" font-size="7.7" stroke="#1c1c1c" stroke-width="0.1">Uri1</text>
<text x="168.90" y="735.93" font-size="7.7" stroke="#1c1c1c" stroke-width="0.1">Cfdp1</text>
<text x="168.90" y="744.17" font-size="7.7" stroke="#1c1c1c" stroke-width="0.1">Capzb</text>
<text x="168.90" y="752.40" font-size="7.7" stroke="#1c1c1c" stroke-width="0.1">Alg14</text>
<text x="168.90" y="760.64" font-size="7.7" stroke="#1c1c1c" stroke-width="0.1">Atp1a1</text>
<text x="168.90" y="768.87" font-size="7.7" stroke="#1c1c1c" stroke-width="0.1">Cdc16</text>
<text x="168.90" y="777.11" font-size="7.7" stroke="#1c1c1c" stroke-width="0.1">Cebpz</text>
<text x="168.90" y="785.35" font-size="7.7" stroke="#1c1c1c" stroke-width="0.1">Dnajc8</text>
<text x="168.90" y="793.58" font-size="7.7" stroke="#1c1c1c" stroke-width="0.1">Dtymk</text>
<text x="168.90" y="801.82" font-size="7.7" stroke="#1c1c1c" stroke-width="0.1">Eif2s1</text>
<text x="168.90" y="810.05" font-size="7.7" stroke="#1c1c1c" stroke-width="0.1">Elp2</text>
<text x="168.90" y="818.29" font-size="7.7" stroke="#1c1c1c" stroke-width="0.1">Gfm1</text>
<text x="168.90" y="826.53" font-size="7.7" stroke="#1c1c1c" stroke-width="0.1">Isca2</text>
<text x="168.90" y="834.76" font-size="7.7" stroke="#1c1c1c" stroke-width="0.1">Isg20l2</text>
<text x="168.90" y="843.00" font-size="7.7" stroke="#1c1c1c" stroke-width="0.1">Mettl16</text>
<text x="168.90" y="851.23" font-size="7.7" stroke="#1c1c1c" stroke-width="0.1">Pomp</text>
<text x="168.90" y="859.47" font-size="7.7" stroke="#1c1c1c" stroke-width="0.1">Sbno1</text>
<text x="168.90" y="867.71" font-size="7.7" stroke="#1c1c1c" stroke-width="0.1">Tgs1</text>
<text x="168.90" y="875.94" font-size="7.7" stroke="#1c1c1c" stroke-width="0.1">Eny2</text>
<line x1="303.20" y1="275.00" x2="303.20" y2="877.20" stroke="#333" stroke-width="0.9"/>
<line x1="165.80" y1="349.81" x2="303.20" y2="349.81" stroke="#333" stroke-width="0.9"/>
<line x1="165.80" y1="432.16" x2="303.20" y2="432.16" stroke="#333" stroke-width="0.9"/>
<line x1="165.80" y1="514.51" x2="303.20" y2="514.51" stroke="#333" stroke-width="0.9"/>
<line x1="165.80" y1="555.69" x2="303.20" y2="555.69" stroke="#333" stroke-width="0.9"/>
<line x1="165.80" y1="588.63" x2="303.20" y2="588.63" stroke="#333" stroke-width="0.9"/>
<line x1="165.80" y1="613.34" x2="303.20" y2="613.34" stroke="#333" stroke-width="0.9"/>
<line x1="165.80" y1="629.80" x2="303.20" y2="629.80" stroke="#333" stroke-width="0.9"/>
<line x1="165.80" y1="646.27" x2="303.20" y2="646.27" stroke="#333" stroke-width="0.9"/>
<line x1="165.80" y1="662.74" x2="303.20" y2="662.74" stroke="#333" stroke-width="0.9"/>
<line x1="165.80" y1="679.21" x2="303.20" y2="679.21" stroke="#333" stroke-width="0.9"/>
<text x="255.10" y="316.30" font-size="9.3" text-anchor="middle" stroke="#1c1c1c" stroke-width="0.1">Nuclear pore</text>
<text x="253.90" y="390.80" font-size="9.3" text-anchor="middle" stroke="#1c1c1c" stroke-width="0.1">Mitochondrial large</text>
<text x="255.10" y="398.50" font-size="9.3" text-anchor="middle" stroke="#1c1c1c" stroke-width="0.1">ribosomal subunit</text>
<text x="255.10" y="479.60" font-size="9.3" text-anchor="middle" stroke="#1c1c1c" stroke-width="0.1">Nucleolus</text>
<text x="255.10" y="535.00" font-size="9.3" text-anchor="middle" stroke="#1c1c1c" stroke-width="0.1">Spliceosomal</text>
<text x="255.10" y="542.70" font-size="9.3" text-anchor="middle" stroke="#1c1c1c" stroke-width="0.1">complex</text>
<text x="255.10" y="574.00" font-size="9.3" text-anchor="middle" stroke="#1c1c1c" stroke-width="0.1">90S preribosome</text>
<text x="253.90" y="599.70" font-size="9.3" text-anchor="middle" stroke="#1c1c1c" stroke-width="0.1">Small-subunit</text>
<text x="255.10" y="607.40" font-size="9.3" text-anchor="middle" stroke="#1c1c1c" stroke-width="0.1">processome</text>
<text x="255.10" y="624.00" font-size="9.3" text-anchor="middle" stroke="#1c1c1c" stroke-width="0.1">Exocyst</text>
<text x="255.10" y="640.40" font-size="9.3" text-anchor="middle" stroke="#1c1c1c" stroke-width="0.1">Mito. membrane</text>
<text x="255.10" y="657.70" font-size="9.3" text-anchor="middle" stroke="#1c1c1c" stroke-width="0.1">Telomerase</text>
<text x="255.10" y="673.10" font-size="9.3" text-anchor="middle" stroke="#1c1c1c" stroke-width="0.1">Cul3-RING ubi. ligase</text>
<text x="255.40" y="780.70" font-size="9.3" text-anchor="middle" stroke="#1c1c1c" stroke-width="0.1">Other</text>
<rect x="41.60" y="883.30" width="7.36" height="7.70" fill="#3b55a5"/>
<rect x="48.76" y="883.30" width="7.36" height="7.70" fill="#425aa7"/>
<rect x="55.91" y="883.30" width="7.36" height="7.70" fill="#5062ab"/>
<rect x="63.07" y="883.30" width="7.36" height="7.70" fill="#636fb3"/>
<rect x="70.22" y="883.30" width="7.36" height="7.70" fill="#7a7fbc"/>
<rect x="77.38" y="883.30" width="7.36" height="7.70" fill="#9696c8"/>
<rect x="84.54" y="883.30" width="7.36" height="7.70" fill="#b5b5d8"/>
<rect x="91.69" y="883.30" width="7.36" height="7.70" fill="#d6d6e9"/>
<rect x="98.85" y="883.30" width="7.36" height="7.70" fill="#ffffff"/>
<rect x="106.01" y="883.30" width="7.36" height="7.70" fill="#fce2d8"/>
<rect x="113.16" y="883.30" width="7.36" height="7.70" fill="#facdbe"/>
<rect x="120.32" y="883.30" width="7.36" height="7.70" fill="#f8b9a5"/>
<rect x="127.47" y="883.30" width="7.36" height="7.70" fill="#f6a58c"/>
<rect x="134.63" y="883.30" width="7.36" height="7.70" fill="#f48c6c"/>
<rect x="141.79" y="883.30" width="7.36" height="7.70" fill="#f1734b"/>
<rect x="148.94" y="883.30" width="7.36" height="7.70" fill="#ef5d2d"/>
<rect x="41.60" y="883.30" width="114.50" height="7.70" fill="none" stroke="#888" stroke-width="0.5"/>
<text x="43.90" y="899.30" font-size="8.6" text-anchor="middle" stroke="#1c1c1c" stroke-width="0.1">2</text>
<text x="72.90" y="899.30" font-size="8.6" text-anchor="middle" stroke="#1c1c1c" stroke-width="0.1">1</text>
<text x="100.90" y="899.30" font-size="8.6" text-anchor="middle" stroke="#1c1c1c" stroke-width="0.1">0</text>
<text x="130.60" y="899.30" font-size="8.6" text-anchor="middle" stroke="#1c1c1c" stroke-width="0.1">1</text>
<text x="154.70" y="899.30" font-size="8.6" text-anchor="middle" stroke="#1c1c1c" stroke-width="0.1">2</text>
<text x="97.40" y="909.60" font-size="9.3" text-anchor="middle" stroke="#1c1c1c" stroke-width="0.1">z score</text>
<g filter="url(#hb)">
<rect x="7.90" y="274.20" width="12.66" height="8.41" fill="#f7af98"/>
<rect x="20.41" y="274.20" width="18.92" height="8.41" fill="#f38461"/>
<rect x="39.18" y="274.20" width="6.41" height="8.41" fill="#fbd5c8"/>
<rect x="45.43" y="274.20" width="6.41" height="8.41" fill="#6470b3"/>
<rect x="51.69" y="274.20" width="6.41" height="8.41" fill="#c5c5e0"/>
<rect x="57.94" y="274.20" width="6.41" height="8.41" fill="#fbd5c8"/>
<rect x="7.90" y="282.46" width="6.41" height="8.41" fill="#f7af98"/>
<rect x="14.16" y="282.46" width="12.66" height="8.41" fill="#fbd5c8"/>
<rect x="26.67" y="282.46" width="18.92" height="8.41" fill="#f38461"/>
<rect x="45.43" y="282.46" width="12.66" height="8.41" fill="#6470b3"/>
<rect x="57.94" y="282.46" width="6.41" height="8.41" fill="#8e90c5"/>
<rect x="7.90" y="290.72" width="6.41" height="8.41" fill="#f7af98"/>
<rect x="14.16" y="290.72" width="6.41" height="8.41" fill="#fbd5c8"/>
<rect x="20.41" y="290.72" width="6.41" height="8.41" fill="#f7af98"/>
<rect x="26.67" y="290.72" width="6.41" height="8.41" fill="#fbd5c8"/>
<rect x="32.92" y="290.72" width="18.92" height="8.41" fill="#ffffff"/>
<rect x="51.69" y="290.72" width="12.66" height="8.41" fill="#f7af98"/>
<rect x="7.90" y="298.98" width="18.92" height="8.41" fill="#f7af98"/>
<rect x="26.67" y="298.98" width="18.92" height="8.41" fill="#fbd5c8"/>
<rect x="45.43" y="298.98" width="6.41" height="8.41" fill="#c5c5e0"/>
<rect x="51.69" y="298.98" width="6.41" height="8.41" fill="#8e90c5"/>
<rect x="57.94" y="298.98" width="6.41" height="8.41" fill="#c5c5e0"/>
<rect x="7.90" y="307.24" width="12.66" height="8.41" fill="#f38461"/>
<rect x="20.41" y="307.24" width="6.41" height="8.41" fill="#ef5d2d"/>
<rect x="26.67" y="307.24" width="6.41" height="8.41" fill="#c5c5e0"/>
<rect x="32.92" y="307.24" width="6.41" height="8.41" fill="#8e90c5"/>
<rect x="39.18" y="307.24" width="6.41" height="8.41" fill="#ffffff"/>
<rect x="45.43" y="307.24" width="6.41" height="8.41" fill="#c5c5e0"/>
<rect x="51.69" y="307.24" width="6.41" height="8.41" fill="#8e90c5"/>
<rect x="57.94" y="307.24" width="6.41" height="8.41" fill="#c5c5e0"/>
<rect x="7.90" y="315.50" width="12.66" height="8.41" fill="#fbd5c8"/>
<rect x="20.41" y="315.50" width="25.17" height="8.41" fill="#f38461"/>
<rect x="45.43" y="315.50" width="12.66" height="8.41" fill="#6470b3"/>
<rect x="57.94" y="315.50" width="6.41" height="8.41" fill="#3e57a6"/>
<rect x="7.90" y="323.76" width="6.41" height="8.41" fill="#f7af98"/>
<rect x="14.16" y="323.76" width="6.41" height="8.41" fill="#fbd5c8"/>
<rect x="20.41" y="323.76" width="18.92" height="8.41" fill="#f7af98"/>
<rect x="39.18" y="323.76" width="6.41" height="8.41" fill="#fbd5c8"/>
<rect x="45.43" y="323.76" width="6.41" height="8.41" fill="#6470b3"/>
<rect x="51.69" y="323.76" width="6.41" height="8.41" fill="#ffffff"/>
<rect x="57.94" y="323.76" width="6.41" height="8.41" fill="#c5c5e0"/>
<rect x="7.90" y="332.02" width="6.41" height="8.41" fill="#f7af98"/>
<rect x="14.16" y="332.02" width="6.41" height="8.41" fill="#fbd5c8"/>
<rect x="20.41" y="332.02" width="12.66" height="8.41" fill="#f7af98"/>
<rect x="32.92" y="332.02" width="6.41" height="8.41" fill="#f38461"/>
<rect x="39.18" y="332.02" width="6.41" height="8.41" fill="#f7af98"/>
<rect x="45.43" y="332.02" width="6.41" height="8.41" fill="#3e57a6"/>
<rect x="51.69" y="332.02" width="12.66" height="8.41" fill="#6470b3"/>
<rect x="7.90" y="340.28" width="12.66" height="8.41" fill="#fbd5c8"/>
<rect x="20.41" y="340.28" width="12.66" height="8.41" fill="#f7af98"/>
<rect x="32.92" y="340.28" width="6.41" height="8.41" fill="#fbd5c8"/>
<rect x="39.18" y="340.28" width="6.41" height="8.41" fill="#c5c5e0"/>
<rect x="45.43" y="340.28" width="6.41" height="8.41" fill="#6470b3"/>
<rect x="51.69" y="340.28" width="6.41" height="8.41" fill="#f7af98"/>
<rect x="57.94" y="340.28" width="6.41" height="8.41" fill="#f38461"/>
<rect x="7.90" y="348.54" width="6.41" height="8.41" fill="#f7af98"/>
<rect x="14.16" y="348.54" width="12.66" height="8.41" fill="#fbd5c8"/>
<rect x="26.67" y="348.54" width="6.41" height="8.41" fill="#ffffff"/>
<rect x="32.92" y="348.54" width="12.66" height="8.41" fill="#fbd5c8"/>
<rect x="45.43" y="348.54" width="6.41" height="8.41" fill="#f7af98"/>
<rect x="51.69" y="348.54" width="6.41" height="8.41" fill="#fbd5c8"/>
<rect x="57.94" y="348.54" width="6.41" height="8.41" fill="#f7af98"/>
<rect x="7.90" y="356.80" width="6.41" height="8.41" fill="#ffffff"/>
<rect x="14.16" y="356.80" width="12.66" height="8.41" fill="#fbd5c8"/>
<rect x="26.67" y="356.80" width="6.41" height="8.41" fill="#f7af98"/>
<rect x="32.92" y="356.80" width="12.66" height="8.41" fill="#ffffff"/>
<rect x="45.43" y="356.80" width="6.41" height="8.41" fill="#f7af98"/>
<rect x="51.69" y="356.80" width="6.41" height="8.41" fill="#ffffff"/>
<rect x="57.94" y="356.80" width="6.41" height="8.41" fill="#fbd5c8"/>
<rect x="7.90" y="365.06" width="6.41" height="8.41" fill="#3e57a6"/>
<rect x="14.16" y="365.06" width="6.41" height="8.41" fill="#c5c5e0"/>
<rect x="20.41" y="365.06" width="6.41" height="8.41" fill="#6470b3"/>
<rect x="26.67" y="365.06" width="6.41" height="8.41" fill="#8e90c5"/>
<rect x="32.92" y="365.06" width="6.41" height="8.41" fill="#f7af98"/>
<rect x="39.18" y="365.06" width="6.41" height="8.41" fill="#c5c5e0"/>
<rect x="45.43" y="365.06" width="6.41" height="8.41" fill="#ef5d2d"/>
<rect x="51.69" y="365.06" width="6.41" height="8.41" fill="#fbd5c8"/>
<rect x="57.94" y="365.06" width="6.41" height="8.41" fill="#ef5d2d"/>
<rect x="7.90" y="373.32" width="12.66" height="8.41" fill="#f7af98"/>
<rect x="20.41" y="373.32" width="6.41" height="8.41" fill="#ffffff"/>
<rect x="26.67" y="373.32" width="18.92" height="8.41" fill="#c5c5e0"/>
<rect x="45.43" y="373.32" width="6.41" height="8.41" fill="#f38461"/>
<rect x="51.69" y="373.32" width="6.41" height="8.41" fill="#fbd5c8"/>
<rect x="57.94" y="373.32" width="6.41" height="8.41" fill="#f7af98"/>
<rect x="7.90" y="381.58" width="6.41" height="8.41" fill="#c5c5e0"/>
<rect x="14.16" y="381.58" width="6.41" height="8.41" fill="#fbd5c8"/>
<rect x="20.41" y="381.58" width="6.41" height="8.41" fill="#f38461"/>
<rect x="26.67" y="381.58" width="12.66" height="8.41" fill="#c5c5e0"/>
<rect x="39.18" y="381.58" width="6.41" height="8.41" fill="#ffffff"/>
<rect x="45.43" y="381.58" width="6.41" height="8.41" fill="#f38461"/>
<rect x="51.69" y="381.58" width="6.41" height="8.41" fill="#ffffff"/>
<rect x="57.94" y="381.58" width="6.41" height="8.41" fill="#f7af98"/>
<rect x="7.90" y="389.84" width="6.41" height="8.41" fill="#c5c5e0"/>
<rect x="14.16" y="389.84" width="12.66" height="8.41" fill="#f7af98"/>
<rect x="26.67" y="389.84" width="6.41" height="8.41" fill="#c5c5e0"/>
<rect x="32.92" y="389.84" width="6.41" height="8.41" fill="#ffffff"/>
<rect x="39.18" y="389.84" width="6.41" height="8.41" fill="#6470b3"/>
<rect x="45.43" y="389.84" width="18.92" height="8.41" fill="#f7af98"/>
<rect x="7.90" y="398.10" width="12.66" height="8.41" fill="#f38461"/>
<rect x="20.41" y="398.10" width="6.41" height="8.41" fill="#f7af98"/>
<rect x="26.67" y="398.10" width="18.92" height="8.41" fill="#ffffff"/>
<rect x="45.43" y="398.10" width="12.66" height="8.41" fill="#c5c5e0"/>
<rect x="57.94" y="398.10" width="6.41" height="8.41" fill="#ffffff"/>
<rect x="7.90" y="406.36" width="6.41" height="8.41" fill="#f7af98"/>
<rect x="14.16" y="406.36" width="6.41" height="8.41" fill="#c5c5e0"/>
<rect x="20.41" y="406.36" width="6.41" height="8.41" fill="#f7af98"/>
<rect x="26.67" y="406.36" width="6.41" height="8.41" fill="#8e90c5"/>
<rect x="32.92" y="406.36" width="6.41" height="8.41" fill="#ffffff"/>
<rect x="39.18" y="406.36" width="6.41" height="8.41" fill="#c5c5e0"/>
<rect x="45.43" y="406.36" width="6.41" height="8.41" fill="#f7af98"/>
<rect x="51.69" y="406.36" width="6.41" height="8.41" fill="#fbd5c8"/>
<rect x="57.94" y="406.36" width="6.41" height="8.41" fill="#f38461"/>
<rect x="7.90" y="414.62" width="12.66" height="8.41" fill="#f7af98"/>
<rect x="20.41" y="414.62" width="6.41" height="8.41" fill="#ffffff"/>
<rect x="26.67" y="414.62" width="18.92" height="8.41" fill="#fbd5c8"/>
<rect x="45.43" y="414.62" width="6.41" height="8.41" fill="#f7af98"/>
<rect x="51.69" y="414.62" width="6.41" height="8.41" fill="#c5c5e0"/>
<rect x="57.94" y="414.62" width="6.41" height="8.41" fill="#f7af98"/>
<rect x="7.90" y="422.88" width="12.66" height="8.41" fill="#f38461"/>
<rect x="20.41" y="422.88" width="6.41" height="8.41" fill="#ef5d2d"/>
<rect x="26.67" y="422.88" width="6.41" height="8.41" fill="#ffffff"/>
<rect x="32.92" y="422.88" width="6.41" height="8.41" fill="#fbd5c8"/>
<rect x="39.18" y="422.88" width="6.41" height="8.41" fill="#ffffff"/>
<rect x="45.43" y="422.88" width="6.41" height="8.41" fill="#8e90c5"/>
<rect x="51.69" y="422.88" width="6.41" height="8.41" fill="#c5c5e0"/>
<rect x="57.94" y="422.88" width="6.41" height="8.41" fill="#f7af98"/>
<rect x="7.90" y="431.15" width="12.66" height="8.41" fill="#6470b3"/>
<rect x="20.41" y="431.15" width="6.41" height="8.41" fill="#c5c5e0"/>
<rect x="26.67" y="431.15" width="6.41" height="8.41" fill="#f7af98"/>
<rect x="32.92" y="431.15" width="12.66" height="8.41" fill="#ef5d2d"/>
<rect x="45.43" y="431.15" width="12.66" height="8.41" fill="#8e90c5"/>
<rect x="57.94" y="431.15" width="6.41" height="8.41" fill="#c5c5e0"/>
<rect x="7.90" y="439.41" width="12.66" height="8.41" fill="#f7af98"/>
<rect x="20.41" y="439.41" width="6.41" height="8.41" fill="#f38461"/>
<rect x="26.67" y="439.41" width="6.41" height="8.41" fill="#fbd5c8"/>
<rect x="32.92" y="439.41" width="6.41" height="8.41" fill="#ffffff"/>
<rect x="39.18" y="439.41" width="6.41" height="8.41" fill="#fbd5c8"/>
<rect x="45.43" y="439.41" width="18.92" height="8.41" fill="#c5c5e0"/>
<rect x="7.90" y="447.67" width="6.41" height="8.41" fill="#f7af98"/>
<rect x="14.16" y="447.67" width="6.41" height="8.41" fill="#fbd5c8"/>
<rect x="20.41" y="447.67" width="6.41" height="8.41" fill="#f7af98"/>
<rect x="26.67" y="447.67" width="6.41" height="8.41" fill="#ffffff"/>
<rect x="32.92" y="447.67" width="6.41" height="8.41" fill="#fbd5c8"/>
<rect x="39.18" y="447.67" width="6.41" height="8.41" fill="#c5c5e0"/>
<rect x="45.43" y="447.67" width="12.66" height="8.41" fill="#f7af98"/>
<rect x="57.94" y="447.67" width="6.41" height="8.41" fill="#f38461"/>
<rect x="7.90" y="455.93" width="6.41" height="8.41" fill="#6470b3"/>
<rect x="14.16" y="455.93" width="6.41" height="8.41" fill="#c5c5e0"/>
<rect x="20.41" y="455.93" width="6.41" height="8.41" fill="#ffffff"/>
<rect x="26.67" y="455.93" width="6.41" height="8.41" fill="#fbd5c8"/>
<rect x="32.92" y="455.93" width="12.66" height="8.41" fill="#f38461"/>
<rect x="45.43" y="455.93" width="6.41" height="8.41" fill="#fbd5c8"/>
<rect x="51.69" y="455.93" width="6.41" height="8.41" fill="#c5c5e0"/>
<rect x="57.94" y="455.93" width="6.41" height="8.41" fill="#fbd5c8"/>
<rect x="7.90" y="464.19" width="6.41" height="8.41" fill="#f7af98"/>
<rect x="14.16" y="464.19" width="12.66" height="8.41" fill="#fbd5c8"/>
<rect x="26.67" y="464.19" width="6.41" height="8.41" fill="#f7af98"/>
<rect x="32.92" y="464.19" width="18.92" height="8.41" fill="#fbd5c8"/>
<rect x="51.69" y="464.19" width="6.41" height="8.41" fill="#c5c5e0"/>
<rect x="57.94" y="464.19" width="6.41" height="8.41" fill="#fbd5c8"/>
<rect x="7.90" y="472.45" width="25.17" height="8.41" fill="#f7af98"/>
<rect x="32.92" y="472.45" width="12.66" height="8.41" fill="#fbd5c8"/>
<rect x="45.43" y="472.45" width="12.66" height="8.41" fill="#c5c5e0"/>
<rect x="57.94" y="472.45" width="6.41" height="8.41" fill="#ffffff"/>
<rect x="7.90" y="480.71" width="6.41" height="8.41" fill="#c5c5e0"/>
<rect x="14.16" y="480.71" width="12.66" height="8.41" fill="#ffffff"/>
<rect x="26.67" y="480.71" width="6.41" height="8.41" fill="#f38461"/>
<rect x="32.92" y="480.71" width="6.41" height="8.41" fill="#f7af98"/>
<rect x="39.18" y="480.71" width="6.41" height="8.41" fill="#fbd5c8"/>
<rect x="45.43" y="480.71" width="6.41" height="8.41" fill="#c5c5e0"/>
<rect x="51.69" y="480.71" width="12.66" height="8.41" fill="#fbd5c8"/>
<rect x="7.90" y="488.97" width="6.41" height="8.41" fill="#f7af98"/>
<rect x="14.16" y="488.97" width="6.41" height="8.41" fill="#ffffff"/>
<rect x="20.41" y="488.97" width="6.41" height="8.41" fill="#ef5d2d"/>
<rect x="26.67" y="488.97" width="6.41" height="8.41" fill="#c5c5e0"/>
<rect x="32.92" y="488.97" width="6.41" height="8.41" fill="#6470b3"/>
<rect x="39.18" y="488.97" width="6.41" height="8.41" fill="#8e90c5"/>
<rect x="45.43" y="488.97" width="6.41" height="8.41" fill="#6470b3"/>
<rect x="51.69" y="488.97" width="6.41" height="8.41" fill="#c5c5e0"/>
<rect x="57.94" y="488.97" width="6.41" height="8.41" fill="#f7af98"/>
<rect x="7.90" y="497.23" width="18.92" height="8.41" fill="#f38461"/>
<rect x="26.67" y="497.23" width="6.41" height="8.41" fill="#c5c5e0"/>
<rect x="32.92" y="497.23" width="12.66" height="8.41" fill="#8e90c5"/>
<rect x="45.43" y="497.23" width="6.41" height="8.41" fill="#ffffff"/>
<rect x="51.69" y="497.23" width="6.41" height="8.41" fill="#c5c5e0"/>
<rect x="57.94" y="497.23" width="6.41" height="8.41" fill="#fbd5c8"/>
<rect x="7.90" y="505.49" width="18.92" height="8.41" fill="#6470b3"/>
<rect x="26.67" y="505.49" width="12.66" height="8.41" fill="#f38461"/>
<rect x="39.18" y="505.49" width="6.41" height="8.41" fill="#ef5d2d"/>
<rect x="45.43" y="505.49" width="6.41" height="8.41" fill="#3e57a6"/>
<rect x="51.69" y="505.49" width="6.41" height="8.41" fill="#8e90c5"/>
<rect x="57.94" y="505.49" width="6.41" height="8.41" fill="#c5c5e0"/>
<rect x="7.90" y="513.75" width="6.41" height="8.41" fill="#f38461"/>
<rect x="14.16" y="513.75" width="6.41" height="8.41" fill="#fbd5c8"/>
<rect x="20.41" y="513.75" width="12.66" height="8.41" fill="#f7af98"/>
<rect x="32.92" y="513.75" width="6.41" height="8.41" fill="#fbd5c8"/>
<rect x="39.18" y="513.75" width="6.41" height="8.41" fill="#f7af98"/>
<rect x="45.43" y="513.75" width="12.66" height="8.41" fill="#c5c5e0"/>
<rect x="57.94" y="513.75" width="6.41" height="8.41" fill="#8e90c5"/>
<rect x="7.90" y="522.01" width="18.92" height="8.41" fill="#f38461"/>
<rect x="26.67" y="522.01" width="12.66" height="8.41" fill="#c5c5e0"/>
<rect x="39.18" y="522.01" width="6.41" height="8.41" fill="#ffffff"/>
<rect x="45.43" y="522.01" width="6.41" height="8.41" fill="#c5c5e0"/>
<rect x="51.69" y="522.01" width="6.41" height="8.41" fill="#8e90c5"/>
<rect x="57.94" y="522.01" width="6.41" height="8.41" fill="#c5c5e0"/>
<rect x="7.90" y="530.27" width="18.92" height="8.41" fill="#f38461"/>
<rect x="26.67" y="530.27" width="18.92" height="8.41" fill="#fbd5c8"/>
<rect x="45.43" y="530.27" width="12.66" height="8.41" fill="#6470b3"/>
<rect x="57.94" y="530.27" width="6.41" height="8.41" fill="#8e90c5"/>
<rect x="7.90" y="538.53" width="6.41" height="8.41" fill="#f7af98"/>
<rect x="14.16" y="538.53" width="6.41" height="8.41" fill="#ffffff"/>
<rect x="20.41" y="538.53" width="6.41" height="8.41" fill="#f38461"/>
<rect x="26.67" y="538.53" width="12.66" height="8.41" fill="#fbd5c8"/>
<rect x="39.18" y="538.53" width="6.41" height="8.41" fill="#c5c5e0"/>
<rect x="45.43" y="538.53" width="6.41" height="8.41" fill="#6470b3"/>
<rect x="51.69" y="538.53" width="6.41" height="8.41" fill="#8e90c5"/>
<rect x="57.94" y="538.53" width="6.41" height="8.41" fill="#f7af98"/>
<rect x="7.90" y="546.79" width="6.41" height="8.41" fill="#8e90c5"/>
<rect x="14.16" y="546.79" width="6.41" height="8.41" fill="#c5c5e0"/>
<rect x="20.41" y="546.79" width="6.41" height="8.41" fill="#8e90c5"/>
<rect x="26.67" y="546.79" width="6.41" height="8.41" fill="#c5c5e0"/>
<rect x="32.92" y="546.79" width="6.41" height="8.41" fill="#ffffff"/>
<rect x="39.18" y="546.79" width="6.41" height="8.41" fill="#8e90c5"/>
<rect x="45.43" y="546.79" width="6.41" height="8.41" fill="#ef5d2d"/>
<rect x="51.69" y="546.79" width="6.41" height="8.41" fill="#f38461"/>
<rect x="57.94" y="546.79" width="6.41" height="8.41" fill="#ef5d2d"/>
<rect x="7.90" y="555.05" width="12.66" height="8.41" fill="#f7af98"/>
<rect x="20.41" y="555.05" width="6.41" height="8.41" fill="#f38461"/>
<rect x="26.67" y="555.05" width="6.41" height="8.41" fill="#fbd5c8"/>
<rect x="32.92" y="555.05" width="6.41" height="8.41" fill="#f7af98"/>
<rect x="39.18" y="555.05" width="6.41" height="8.41" fill="#fbd5c8"/>
<rect x="45.43" y="555.05" width="6.41" height="8.41" fill="#c5c5e0"/>
<rect x="51.69" y="555.05" width="6.41" height="8.41" fill="#6470b3"/>
<rect x="57.94" y="555.05" width="6.41" height="8.41" fill="#ffffff"/>
<rect x="7.90" y="563.31" width="6.41" height="8.41" fill="#fbd5c8"/>
<rect x="14.16" y="563.31" width="6.41" height="8.41" fill="#f38461"/>
<rect x="20.41" y="563.31" width="6.41" height="8.41" fill="#f7af98"/>
<rect x="26.67" y="563.31" width="12.66" height="8.41" fill="#fbd5c8"/>
<rect x="39.18" y="563.31" width="6.41" height="8.41" fill="#ffffff"/>
<rect x="45.43" y="563.31" width="12.66" height="8.41" fill="#c5c5e0"/>
<rect x="57.94" y="563.31" width="6.41" height="8.41" fill="#ffffff"/>
<rect x="7.90" y="571.57" width="6.41" height="8.41" fill="#fbd5c8"/>
<rect x="14.16" y="571.57" width="12.66" height="8.41" fill="#ffffff"/>
<rect x="26.67" y="571.57" width="6.41" height="8.41" fill="#fbd5c8"/>
<rect x="32.92" y="571.57" width="12.66" height="8.41" fill="#c5c5e0"/>
<rect x="45.43" y="571.57" width="6.41" height="8.41" fill="#f7af98"/>
<rect x="51.69" y="571.57" width="12.66" height="8.41" fill="#f38461"/>
<rect x="7.90" y="579.83" width="6.41" height="8.41" fill="#c5c5e0"/>
<rect x="14.16" y="579.83" width="6.41" height="8.41" fill="#fbd5c8"/>
<rect x="20.41" y="579.83" width="6.41" height="8.41" fill="#ffffff"/>
<rect x="26.67" y="579.83" width="12.66" height="8.41" fill="#fbd5c8"/>
<rect x="39.18" y="579.83" width="6.41" height="8.41" fill="#ffffff"/>
<rect x="45.43" y="579.83" width="12.66" height="8.41" fill="#f7af98"/>
<rect x="57.94" y="579.83" width="6.41" height="8.41" fill="#f38461"/>
<rect x="7.90" y="588.09" width="6.41" height="8.41" fill="#fbd5c8"/>
<rect x="14.16" y="588.09" width="12.66" height="8.41" fill="#f7af98"/>
<rect x="26.67" y="588.09" width="12.66" height="8.41" fill="#fbd5c8"/>
<rect x="39.18" y="588.09" width="6.41" height="8.41" fill="#c5c5e0"/>
<rect x="45.43" y="588.09" width="6.41" height="8.41" fill="#fbd5c8"/>
<rect x="51.69" y="588.09" width="6.41" height="8.41" fill="#ffffff"/>
<rect x="57.94" y="588.09" width="6.41" height="8.41" fill="#f7af98"/>
<rect x="7.90" y="596.35" width="6.41" height="8.41" fill="#f7af98"/>
<rect x="14.16" y="596.35" width="6.41" height="8.41" fill="#fbd5c8"/>
<rect x="20.41" y="596.35" width="6.41" height="8.41" fill="#f7af98"/>
<rect x="26.67" y="596.35" width="6.41" height="8.41" fill="#fbd5c8"/>
<rect x="32.92" y="596.35" width="12.66" height="8.41" fill="#ffffff"/>
<rect x="45.43" y="596.35" width="6.41" height="8.41" fill="#f7af98"/>
<rect x="51.69" y="596.35" width="12.66" height="8.41" fill="#fbd5c8"/>
<rect x="7.90" y="604.61" width="6.41" height="8.41" fill="#fbd5c8"/>
<rect x="14.16" y="604.61" width="6.41" height="8.41" fill="#f7af98"/>
<rect x="20.41" y="604.61" width="6.41" height="8.41" fill="#f38461"/>
<rect x="26.67" y="604.61" width="12.66" height="8.41" fill="#f7af98"/>
<rect x="39.18" y="604.61" width="6.41" height="8.41" fill="#f38461"/>
<rect x="45.43" y="604.61" width="6.41" height="8.41" fill="#ffffff"/>
<rect x="51.69" y="604.61" width="6.41" height="8.41" fill="#c5c5e0"/>
<rect x="57.94" y="604.61" width="6.41" height="8.41" fill="#fbd5c8"/>
<rect x="7.90" y="612.87" width="12.66" height="8.41" fill="#8e90c5"/>
<rect x="20.41" y="612.87" width="6.41" height="8.41" fill="#ffffff"/>
<rect x="26.67" y="612.87" width="18.92" height="8.41" fill="#f7af98"/>
<rect x="45.43" y="612.87" width="6.41" height="8.41" fill="#3e57a6"/>
<rect x="51.69" y="612.87" width="6.41" height="8.41" fill="#6470b3"/>
<rect x="57.94" y="612.87" width="6.41" height="8.41" fill="#8e90c5"/>
<rect x="7.90" y="621.13" width="6.41" height="8.41" fill="#6470b3"/>
<rect x="14.16" y="621.13" width="12.66" height="8.41" fill="#3e57a6"/>
<rect x="26.67" y="621.13" width="12.66" height="8.41" fill="#fbd5c8"/>
<rect x="39.18" y="621.13" width="6.41" height="8.41" fill="#c5c5e0"/>
<rect x="45.43" y="621.13" width="12.66" height="8.41" fill="#f7af98"/>
<rect x="57.94" y="621.13" width="6.41" height="8.41" fill="#f38461"/>
<rect x="7.90" y="629.39" width="18.92" height="8.41" fill="#f38461"/>
<rect x="26.67" y="629.39" width="12.66" height="8.41" fill="#ffffff"/>
<rect x="39.18" y="629.39" width="6.41" height="8.41" fill="#c5c5e0"/>
<rect x="45.43" y="629.39" width="12.66" height="8.41" fill="#fbd5c8"/>
<rect x="57.94" y="629.39" width="6.41" height="8.41" fill="#f7af98"/>
<rect x="7.90" y="637.65" width="6.41" height="8.41" fill="#ffffff"/>
<rect x="14.16" y="637.65" width="6.41" height="8.41" fill="#c5c5e0"/>
<rect x="20.41" y="637.65" width="6.41" height="8.41" fill="#f7af98"/>
<rect x="26.67" y="637.65" width="6.41" height="8.41" fill="#6470b3"/>
<rect x="32.92" y="637.65" width="6.41" height="8.41" fill="#ffffff"/>
<rect x="39.18" y="637.65" width="6.41" height="8.41" fill="#3e57a6"/>
<rect x="45.43" y="637.65" width="12.66" height="8.41" fill="#fbd5c8"/>
<rect x="57.94" y="637.65" width="6.41" height="8.41" fill="#f38461"/>
<rect x="7.90" y="645.91" width="6.41" height="8.41" fill="#f7af98"/>
<rect x="14.16" y="645.91" width="12.66" height="8.41" fill="#f38461"/>
<rect x="26.67" y="645.91" width="6.41" height="8.41" fill="#c5c5e0"/>
<rect x="32.92" y="645.91" width="6.41" height="8.41" fill="#f7af98"/>
<rect x="39.18" y="645.91" width="12.66" height="8.41" fill="#fbd5c8"/>
<rect x="51.69" y="645.91" width="12.66" height="8.41" fill="#ffffff"/>
<rect x="7.90" y="654.17" width="6.41" height="8.41" fill="#ffffff"/>
<rect x="14.16" y="654.17" width="6.41" height="8.41" fill="#f7af98"/>
<rect x="20.41" y="654.17" width="6.41" height="8.41" fill="#ffffff"/>
<rect x="26.67" y="654.17" width="6.41" height="8.41" fill="#8e90c5"/>
<rect x="32.92" y="654.17" width="6.41" height="8.41" fill="#f38461"/>
<rect x="39.18" y="654.17" width="6.41" height="8.41" fill="#c5c5e0"/>
<rect x="45.43" y="654.17" width="6.41" height="8.41" fill="#f38461"/>
<rect x="51.69" y="654.17" width="6.41" height="8.41" fill="#fbd5c8"/>
<rect x="57.94" y="654.17" width="6.41" height="8.41" fill="#f7af98"/>
<rect x="7.90" y="662.43" width="6.41" height="8.41" fill="#6470b3"/>
<rect x="14.16" y="662.43" width="6.41" height="8.41" fill="#8e90c5"/>
<rect x="20.41" y="662.43" width="6.41" height="8.41" fill="#6470b3"/>
<rect x="26.67" y="662.43" width="6.41" height="8.41" fill="#ffffff"/>
<rect x="32.92" y="662.43" width="6.41" height="8.41" fill="#8e90c5"/>
<rect x="39.18" y="662.43" width="12.66" height="8.41" fill="#f7af98"/>
<rect x="51.69" y="662.43" width="12.66" height="8.41" fill="#ef5d2d"/>
<rect x="7.90" y="670.69" width="6.41" height="8.41" fill="#f38461"/>
<rect x="14.16" y="670.69" width="6.41" height="8.41" fill="#ef5d2d"/>
<rect x="20.41" y="670.69" width="6.41" height="8.41" fill="#ffffff"/>
<rect x="26.67" y="670.69" width="6.41" height="8.41" fill="#8e90c5"/>
<rect x="32.92" y="670.69" width="6.41" height="8.41" fill="#fbd5c8"/>
<rect x="39.18" y="670.69" width="6.41" height="8.41" fill="#f7af98"/>
<rect x="45.43" y="670.69" width="6.41" height="8.41" fill="#6470b3"/>
<rect x="51.69" y="670.69" width="12.66" height="8.41" fill="#f7af98"/>
<rect x="7.90" y="678.95" width="12.66" height="8.41" fill="#6470b3"/>
<rect x="20.41" y="678.95" width="6.41" height="8.41" fill="#3e57a6"/>
<rect x="26.67" y="678.95" width="12.66" height="8.41" fill="#f7af98"/>
<rect x="39.18" y="678.95" width="6.41" height="8.41" fill="#ffffff"/>
<rect x="45.43" y="678.95" width="6.41" height="8.41" fill="#6470b3"/>
<rect x="51.69" y="678.95" width="12.66" height="8.41" fill="#fbd5c8"/>
<rect x="7.90" y="687.21" width="6.41" height="8.41" fill="#6470b3"/>
<rect x="14.16" y="687.21" width="6.41" height="8.41" fill="#8e90c5"/>
<rect x="20.41" y="687.21" width="6.41" height="8.41" fill="#c5c5e0"/>
<rect x="26.67" y="687.21" width="18.92" height="8.41" fill="#f38461"/>
<rect x="45.43" y="687.21" width="6.41" height="8.41" fill="#ffffff"/>
<rect x="51.69" y="687.21" width="6.41" height="8.41" fill="#6470b3"/>
<rect x="57.94" y="687.21" width="6.41" height="8.41" fill="#c5c5e0"/>
<rect x="7.90" y="695.47" width="18.92" height="8.41" fill="#f38461"/>
<rect x="26.67" y="695.47" width="18.92" height="8.41" fill="#8e90c5"/>
<rect x="45.43" y="695.47" width="6.41" height="8.41" fill="#c5c5e0"/>
<rect x="51.69" y="695.47" width="12.66" height="8.41" fill="#fbd5c8"/>
<rect x="7.90" y="703.73" width="18.92" height="8.41" fill="#f7af98"/>
<rect x="26.67" y="703.73" width="6.41" height="8.41" fill="#ffffff"/>
<rect x="32.92" y="703.73" width="6.41" height="8.41" fill="#c5c5e0"/>
<rect x="39.18" y="703.73" width="6.41" height="8.41" fill="#8e90c5"/>
<rect x="45.43" y="703.73" width="6.41" height="8.41" fill="#fbd5c8"/>
<rect x="51.69" y="703.73" width="12.66" height="8.41" fill="#f7af98"/>
<rect x="7.90" y="711.99" width="6.41" height="8.41" fill="#8e90c5"/>
<rect x="14.16" y="711.99" width="6.41" height="8.41" fill="#6470b3"/>
<rect x="20.41" y="711.99" width="6.41" height="8.41" fill="#8e90c5"/>
<rect x="26.67" y="711.99" width="6.41" height="8.41" fill="#f7af98"/>
<rect x="32.92" y="711.99" width="6.41" height="8.41" fill="#fbd5c8"/>
<rect x="39.18" y="711.99" width="6.41" height="8.41" fill="#ffffff"/>
<rect x="45.43" y="711.99" width="6.41" height="8.41" fill="#6470b3"/>
<rect x="51.69" y="711.99" width="12.66" height="8.41" fill="#8e90c5"/>
<rect x="7.90" y="720.25" width="6.41" height="8.41" fill="#f38461"/>
<rect x="14.16" y="720.25" width="6.41" height="8.41" fill="#ef5d2d"/>
<rect x="20.41" y="720.25" width="6.41" height="8.41" fill="#f38461"/>
<rect x="26.67" y="720.25" width="12.66" height="8.41" fill="#8e90c5"/>
<rect x="39.18" y="720.25" width="6.41" height="8.41" fill="#c5c5e0"/>
<rect x="45.43" y="720.25" width="6.41" height="8.41" fill="#ffffff"/>
<rect x="51.69" y="720.25" width="6.41" height="8.41" fill="#8e90c5"/>
<rect x="57.94" y="720.25" width="6.41" height="8.41" fill="#fbd5c8"/>
<rect x="7.90" y="728.52" width="12.66" height="8.41" fill="#c5c5e0"/>
<rect x="20.41" y="728.52" width="6.41" height="8.41" fill="#8e90c5"/>
<rect x="26.67" y="728.52" width="6.41" height="8.41" fill="#fbd5c8"/>
<rect x="32.92" y="728.52" width="6.41" height="8.41" fill="#f7af98"/>
<rect x="39.18" y="728.52" width="6.41" height="8.41" fill="#c5c5e0"/>
<rect x="45.43" y="728.52" width="12.66" height="8.41" fill="#f7af98"/>
<rect x="57.94" y="728.52" width="6.41" height="8.41" fill="#f38461"/>
<rect x="7.90" y="736.78" width="18.92" height="8.41" fill="#6470b3"/>
<rect x="26.67" y="736.78" width="6.41" height="8.41" fill="#c5c5e0"/>
<rect x="32.92" y="736.78" width="6.41" height="8.41" fill="#ffffff"/>
<rect x="39.18" y="736.78" width="6.41" height="8.41" fill="#8e90c5"/>
<rect x="45.43" y="736.78" width="6.41" height="8.41" fill="#f38461"/>
<rect x="51.69" y="736.78" width="6.41" height="8.41" fill="#fbd5c8"/>
<rect x="57.94" y="736.78" width="6.41" height="8.41" fill="#f38461"/>
<rect x="7.90" y="745.04" width="6.41" height="8.41" fill="#f38461"/>
<rect x="14.16" y="745.04" width="6.41" height="8.41" fill="#f7af98"/>
<rect x="20.41" y="745.04" width="6.41" height="8.41" fill="#fbd5c8"/>
<rect x="26.67" y="745.04" width="6.41" height="8.41" fill="#8e90c5"/>
<rect x="32.92" y="745.04" width="6.41" height="8.41" fill="#c5c5e0"/>
<rect x="39.18" y="745.04" width="6.41" height="8.41" fill="#ffffff"/>
<rect x="45.43" y="745.04" width="6.41" height="8.41" fill="#f7af98"/>
<rect x="51.69" y="745.04" width="12.66" height="8.41" fill="#fbd5c8"/>
<rect x="7.90" y="753.30" width="18.92" height="8.41" fill="#f7af98"/>
<rect x="26.67" y="753.30" width="18.92" height="8.41" fill="#c5c5e0"/>
<rect x="45.43" y="753.30" width="18.92" height="8.41" fill="#f7af98"/>
<rect x="7.90" y="761.56" width="18.92" height="8.41" fill="#f7af98"/>
<rect x="26.67" y="761.56" width="6.41" height="8.41" fill="#c5c5e0"/>
<rect x="32.92" y="761.56" width="12.66" height="8.41" fill="#8e90c5"/>
<rect x="45.43" y="761.56" width="18.92" height="8.41" fill="#f7af98"/>
<rect x="7.90" y="769.82" width="6.41" height="8.41" fill="#f7af98"/>
<rect x="14.16" y="769.82" width="6.41" height="8.41" fill="#fbd5c8"/>
<rect x="20.41" y="769.82" width="6.41" height="8.41" fill="#f7af98"/>
<rect x="26.67" y="769.82" width="6.41" height="8.41" fill="#f38461"/>
<rect x="32.92" y="769.82" width="6.41" height="8.41" fill="#f7af98"/>
<rect x="39.18" y="769.82" width="6.41" height="8.41" fill="#fbd5c8"/>
<rect x="45.43" y="769.82" width="6.41" height="8.41" fill="#8e90c5"/>
<rect x="51.69" y="769.82" width="6.41" height="8.41" fill="#c5c5e0"/>
<rect x="57.94" y="769.82" width="6.41" height="8.41" fill="#ffffff"/>
<rect x="7.90" y="778.08" width="12.66" height="8.41" fill="#fbd5c8"/>
<rect x="20.41" y="778.08" width="6.41" height="8.41" fill="#ffffff"/>
<rect x="26.67" y="778.08" width="6.41" height="8.41" fill="#8e90c5"/>
<rect x="32.92" y="778.08" width="6.41" height="8.41" fill="#c5c5e0"/>
<rect x="39.18" y="778.08" width="6.41" height="8.41" fill="#6470b3"/>
<rect x="45.43" y="778.08" width="12.66" height="8.41" fill="#f38461"/>
<rect x="57.94" y="778.08" width="6.41" height="8.41" fill="#ef5d2d"/>
<rect x="7.90" y="786.34" width="25.17" height="8.41" fill="#f7af98"/>
<rect x="32.92" y="786.34" width="6.41" height="8.41" fill="#f38461"/>
<rect x="39.18" y="786.34" width="6.41" height="8.41" fill="#f7af98"/>
<rect x="45.43" y="786.34" width="6.41" height="8.41" fill="#ffffff"/>
<rect x="51.69" y="786.34" width="6.41" height="8.41" fill="#8e90c5"/>
<rect x="57.94" y="786.34" width="6.41" height="8.41" fill="#ffffff"/>
<rect x="7.90" y="794.60" width="6.41" height="8.41" fill="#ffffff"/>
<rect x="14.16" y="794.60" width="6.41" height="8.41" fill="#fbd5c8"/>
<rect x="20.41" y="794.60" width="6.41" height="8.41" fill="#ffffff"/>
<rect x="26.67" y="794.60" width="6.41" height="8.41" fill="#f38461"/>
<rect x="32.92" y="794.60" width="6.41" height="8.41" fill="#f7af98"/>
<rect x="39.18" y="794.60" width="6.41" height="8.41" fill="#c5c5e0"/>
<rect x="45.43" y="794.60" width="6.41" height="8.41" fill="#ffffff"/>
<rect x="51.69" y="794.60" width="6.41" height="8.41" fill="#fbd5c8"/>
<rect x="57.94" y="794.60" width="6.41" height="8.41" fill="#f7af98"/>
<rect x="7.90" y="802.86" width="18.92" height="8.41" fill="#f38461"/>
<rect x="26.67" y="802.86" width="6.41" height="8.41" fill="#fbd5c8"/>
<rect x="32.92" y="802.86" width="18.92" height="8.41" fill="#c5c5e0"/>
<rect x="51.69" y="802.86" width="6.41" height="8.41" fill="#8e90c5"/>
<rect x="57.94" y="802.86" width="6.41" height="8.41" fill="#f7af98"/>
<rect x="7.90" y="811.12" width="6.41" height="8.41" fill="#f7af98"/>
<rect x="14.16" y="811.12" width="6.41" height="8.41" fill="#fbd5c8"/>
<rect x="20.41" y="811.12" width="6.41" height="8.41" fill="#f7af98"/>
<rect x="26.67" y="811.12" width="6.41" height="8.41" fill="#fbd5c8"/>
<rect x="32.92" y="811.12" width="6.41" height="8.41" fill="#ffffff"/>
<rect x="39.18" y="811.12" width="18.92" height="8.41" fill="#fbd5c8"/>
<rect x="57.94" y="811.12" width="6.41" height="8.41" fill="#f7af98"/>
<rect x="7.90" y="819.38" width="18.92" height="8.41" fill="#f7af98"/>
<rect x="26.67" y="819.38" width="6.41" height="8.41" fill="#8e90c5"/>
<rect x="32.92" y="819.38" width="6.41" height="8.41" fill="#6470b3"/>
<rect x="39.18" y="819.38" width="6.41" height="8.41" fill="#8e90c5"/>
<rect x="45.43" y="819.38" width="6.41" height="8.41" fill="#f38461"/>
<rect x="51.69" y="819.38" width="12.66" height="8.41" fill="#f7af98"/>
<rect x="7.90" y="827.64" width="12.66" height="8.41" fill="#f38461"/>
<rect x="20.41" y="827.64" width="6.41" height="8.41" fill="#f7af98"/>
<rect x="26.67" y="827.64" width="12.66" height="8.41" fill="#fbd5c8"/>
<rect x="39.18" y="827.64" width="6.41" height="8.41" fill="#ffffff"/>
<rect x="45.43" y="827.64" width="6.41" height="8.41" fill="#f7af98"/>
<rect x="51.69" y="827.64" width="6.41" height="8.41" fill="#c5c5e0"/>
<rect x="57.94" y="827.64" width="6.41" height="8.41" fill="#fbd5c8"/>
<rect x="7.90" y="835.90" width="12.66" height="8.41" fill="#fbd5c8"/>
<rect x="20.41" y="835.90" width="6.41" height="8.41" fill="#ffffff"/>
<rect x="26.67" y="835.90" width="18.92" height="8.41" fill="#f38461"/>
<rect x="45.43" y="835.90" width="12.66" height="8.41" fill="#c5c5e0"/>
<rect x="57.94" y="835.90" width="6.41" height="8.41" fill="#ffffff"/>
<rect x="7.90" y="844.16" width="6.41" height="8.41" fill="#ffffff"/>
<rect x="14.16" y="844.16" width="6.41" height="8.41" fill="#c5c5e0"/>
<rect x="20.41" y="844.16" width="6.41" height="8.41" fill="#8e90c5"/>
<rect x="26.67" y="844.16" width="6.41" height="8.41" fill="#f38461"/>
<rect x="32.92" y="844.16" width="6.41" height="8.41" fill="#ef5d2d"/>
<rect x="39.18" y="844.16" width="6.41" height="8.41" fill="#f38461"/>
<rect x="45.43" y="844.16" width="6.41" height="8.41" fill="#c5c5e0"/>
<rect x="51.69" y="844.16" width="6.41" height="8.41" fill="#3e57a6"/>
<rect x="57.94" y="844.16" width="6.41" height="8.41" fill="#c5c5e0"/>
<rect x="7.90" y="852.42" width="18.92" height="8.41" fill="#8e90c5"/>
<rect x="26.67" y="852.42" width="18.92" height="8.41" fill="#6470b3"/>
<rect x="45.43" y="852.42" width="6.41" height="8.41" fill="#c5c5e0"/>
<rect x="51.69" y="852.42" width="6.41" height="8.41" fill="#f38461"/>
<rect x="57.94" y="852.42" width="6.41" height="8.41" fill="#f7af98"/>
<rect x="7.90" y="860.68" width="6.41" height="8.41" fill="#f7af98"/>
<rect x="14.16" y="860.68" width="6.41" height="8.41" fill="#f38461"/>
<rect x="20.41" y="860.68" width="6.41" height="8.41" fill="#f7af98"/>
<rect x="26.67" y="860.68" width="6.41" height="8.41" fill="#f38461"/>
<rect x="32.92" y="860.68" width="12.66" height="8.41" fill="#fbd5c8"/>
<rect x="45.43" y="860.68" width="6.41" height="8.41" fill="#3e57a6"/>
<rect x="51.69" y="860.68" width="6.41" height="8.41" fill="#6470b3"/>
<rect x="57.94" y="860.68" width="6.41" height="8.41" fill="#8e90c5"/>
<rect x="7.90" y="868.94" width="25.17" height="8.41" fill="#f7af98"/>
<rect x="32.92" y="868.94" width="18.92" height="8.41" fill="#fbd5c8"/>
<rect x="51.69" y="868.94" width="6.41" height="8.41" fill="#8e90c5"/>
<rect x="57.94" y="868.94" width="6.41" height="8.41" fill="#ffffff"/>
<rect x="75.90" y="274.20" width="6.48" height="8.41" fill="#f38461"/>
<rect x="82.23" y="274.20" width="6.48" height="8.41" fill="#ef5d2d"/>
<rect x="88.57" y="274.20" width="6.48" height="8.41" fill="#f38461"/>
<rect x="94.90" y="274.20" width="6.48" height="8.41" fill="#c5c5e0"/>
<rect x="101.23" y="274.20" width="6.48" height="8.41" fill="#8e90c5"/>
<rect x="107.57" y="274.20" width="6.48" height="8.41" fill="#c5c5e0"/>
<rect x="113.90" y="274.20" width="12.82" height="8.41" fill="#fbd5c8"/>
<rect x="126.57" y="274.20" width="6.48" height="8.41" fill="#ffffff"/>
<rect x="75.90" y="282.46" width="6.48" height="8.41" fill="#f38461"/>
<rect x="82.23" y="282.46" width="6.48" height="8.41" fill="#ef5d2d"/>
<rect x="88.57" y="282.46" width="6.48" height="8.41" fill="#f38461"/>
<rect x="94.90" y="282.46" width="6.48" height="8.41" fill="#c5c5e0"/>
<rect x="101.23" y="282.46" width="6.48" height="8.41" fill="#ffffff"/>
<rect x="107.57" y="282.46" width="6.48" height="8.41" fill="#c5c5e0"/>
<rect x="113.90" y="282.46" width="12.82" height="8.41" fill="#ffffff"/>
<rect x="126.57" y="282.46" width="6.48" height="8.41" fill="#c5c5e0"/>
<rect x="75.90" y="290.72" width="19.15" height="8.41" fill="#f38461"/>
<rect x="94.90" y="290.72" width="6.48" height="8.41" fill="#c5c5e0"/>
<rect x="101.23" y="290.72" width="6.48" height="8.41" fill="#8e90c5"/>
<rect x="107.57" y="290.72" width="6.48" height="8.41" fill="#c5c5e0"/>
<rect x="113.90" y="290.72" width="6.48" height="8.41" fill="#fbd5c8"/>
<rect x="120.23" y="290.72" width="6.48" height="8.41" fill="#f7af98"/>
<rect x="126.57" y="290.72" width="6.48" height="8.41" fill="#ffffff"/>
<rect x="75.90" y="298.98" width="6.48" height="8.41" fill="#f38461"/>
<rect x="82.23" y="298.98" width="6.48" height="8.41" fill="#f7af98"/>
<rect x="88.57" y="298.98" width="6.48" height="8.41" fill="#f38461"/>
<rect x="94.90" y="298.98" width="6.48" height="8.41" fill="#c5c5e0"/>
<rect x="101.23" y="298.98" width="12.82" height="8.41" fill="#8e90c5"/>
<rect x="113.90" y="298.98" width="6.48" height="8.41" fill="#f7af98"/>
<rect x="120.23" y="298.98" width="12.82" height="8.41" fill="#c5c5e0"/>
<rect x="75.90" y="307.24" width="6.48" height="8.41" fill="#f7af98"/>
<rect x="82.23" y="307.24" width="12.82" height="8.41" fill="#f38461"/>
<rect x="94.90" y="307.24" width="19.15" height="8.41" fill="#6470b3"/>
<rect x="113.90" y="307.24" width="6.48" height="8.41" fill="#f7af98"/>
<rect x="120.23" y="307.24" width="12.82" height="8.41" fill="#fbd5c8"/>
<rect x="75.90" y="315.50" width="6.48" height="8.41" fill="#f7af98"/>
<rect x="82.23" y="315.50" width="6.48" height="8.41" fill="#f38461"/>
<rect x="88.57" y="315.50" width="6.48" height="8.41" fill="#f7af98"/>
<rect x="94.90" y="315.50" width="12.82" height="8.41" fill="#8e90c5"/>
<rect x="107.57" y="315.50" width="6.48" height="8.41" fill="#6470b3"/>
<rect x="113.90" y="315.50" width="6.48" height="8.41" fill="#fbd5c8"/>
<rect x="120.23" y="315.50" width="6.48" height="8.41" fill="#ffffff"/>
<rect x="126.57" y="315.50" width="6.48" height="8.41" fill="#f7af98"/>
<rect x="75.90" y="323.76" width="6.48" height="8.41" fill="#f7af98"/>
<rect x="82.23" y="323.76" width="6.48" height="8.41" fill="#ef5d2d"/>
<rect x="88.57" y="323.76" width="6.48" height="8.41" fill="#f7af98"/>
<rect x="94.90" y="323.76" width="12.82" height="8.41" fill="#8e90c5"/>
<rect x="107.57" y="323.76" width="6.48" height="8.41" fill="#c5c5e0"/>
<rect x="113.90" y="323.76" width="6.48" height="8.41" fill="#f7af98"/>
<rect x="120.23" y="323.76" width="12.82" height="8.41" fill="#fbd5c8"/>
<rect x="75.90" y="332.02" width="6.48" height="8.41" fill="#f7af98"/>
<rect x="82.23" y="332.02" width="6.48" height="8.41" fill="#ef5d2d"/>
<rect x="88.57" y="332.02" width="6.48" height="8.41" fill="#fbd5c8"/>
<rect x="94.90" y="332.02" width="12.82" height="8.41" fill="#c5c5e0"/>
<rect x="107.57" y="332.02" width="6.48" height="8.41" fill="#ffffff"/>
<rect x="113.90" y="332.02" width="6.48" height="8.41" fill="#f7af98"/>
<rect x="120.23" y="332.02" width="12.82" height="8.41" fill="#fbd5c8"/>
<rect x="75.90" y="340.28" width="6.48" height="8.41" fill="#f7af98"/>
<rect x="82.23" y="340.28" width="6.48" height="8.41" fill="#f38461"/>
<rect x="88.57" y="340.28" width="6.48" height="8.41" fill="#f7af98"/>
<rect x="94.90" y="340.28" width="19.15" height="8.41" fill="#8e90c5"/>
<rect x="113.90" y="340.28" width="6.48" height="8.41" fill="#f7af98"/>
<rect x="120.23" y="340.28" width="6.48" height="8.41" fill="#f38461"/>
<rect x="126.57" y="340.28" width="6.48" height="8.41" fill="#f7af98"/>
<rect x="75.90" y="348.54" width="6.48" height="8.41" fill="#f7af98"/>
<rect x="82.23" y="348.54" width="12.82" height="8.41" fill="#f38461"/>
<rect x="94.90" y="348.54" width="6.48" height="8.41" fill="#8e90c5"/>
<rect x="101.23" y="348.54" width="6.48" height="8.41" fill="#c5c5e0"/>
<rect x="107.57" y="348.54" width="6.48" height="8.41" fill="#6470b3"/>
<rect x="113.90" y="348.54" width="6.48" height="8.41" fill="#f38461"/>
<rect x="120.23" y="348.54" width="6.48" height="8.41" fill="#f7af98"/>
<rect x="126.57" y="348.54" width="6.48" height="8.41" fill="#fbd5c8"/>
<rect x="75.90" y="356.80" width="19.15" height="8.41" fill="#f7af98"/>
<rect x="94.90" y="356.80" width="12.82" height="8.41" fill="#8e90c5"/>
<rect x="107.57" y="356.80" width="6.48" height="8.41" fill="#6470b3"/>
<rect x="113.90" y="356.80" width="12.82" height="8.41" fill="#f7af98"/>
<rect x="126.57" y="356.80" width="6.48" height="8.41" fill="#fbd5c8"/>
<rect x="75.90" y="365.06" width="6.48" height="8.41" fill="#f7af98"/>
<rect x="82.23" y="365.06" width="6.48" height="8.41" fill="#ffffff"/>
<rect x="88.57" y="365.06" width="6.48" height="8.41" fill="#f7af98"/>
<rect x="94.90" y="365.06" width="6.48" height="8.41" fill="#8e90c5"/>
<rect x="101.23" y="365.06" width="6.48" height="8.41" fill="#f7af98"/>
<rect x="107.57" y="365.06" width="6.48" height="8.41" fill="#3e57a6"/>
<rect x="113.90" y="365.06" width="6.48" height="8.41" fill="#f38461"/>
<rect x="120.23" y="365.06" width="6.48" height="8.41" fill="#f7af98"/>
<rect x="126.57" y="365.06" width="6.48" height="8.41" fill="#f38461"/>
<rect x="75.90" y="373.32" width="6.48" height="8.41" fill="#f7af98"/>
<rect x="82.23" y="373.32" width="6.48" height="8.41" fill="#fbd5c8"/>
<rect x="88.57" y="373.32" width="6.48" height="8.41" fill="#f7af98"/>
<rect x="94.90" y="373.32" width="6.48" height="8.41" fill="#8e90c5"/>
<rect x="101.23" y="373.32" width="6.48" height="8.41" fill="#6470b3"/>
<rect x="107.57" y="373.32" width="6.48" height="8.41" fill="#3e57a6"/>
<rect x="113.90" y="373.32" width="19.15" height="8.41" fill="#f7af98"/>
<rect x="75.90" y="381.58" width="6.48" height="8.41" fill="#f7af98"/>
<rect x="82.23" y="381.58" width="6.48" height="8.41" fill="#fbd5c8"/>
<rect x="88.57" y="381.58" width="6.48" height="8.41" fill="#f7af98"/>
<rect x="94.90" y="381.58" width="6.48" height="8.41" fill="#8e90c5"/>
<rect x="101.23" y="381.58" width="12.82" height="8.41" fill="#6470b3"/>
<rect x="113.90" y="381.58" width="6.48" height="8.41" fill="#f7af98"/>
<rect x="120.23" y="381.58" width="6.48" height="8.41" fill="#f38461"/>
<rect x="126.57" y="381.58" width="6.48" height="8.41" fill="#f7af98"/>
<rect x="75.90" y="389.84" width="6.48" height="8.41" fill="#ffffff"/>
<rect x="82.23" y="389.84" width="6.48" height="8.41" fill="#f7af98"/>
<rect x="88.57" y="389.84" width="6.48" height="8.41" fill="#ffffff"/>
<rect x="94.90" y="389.84" width="19.15" height="8.41" fill="#6470b3"/>
<rect x="113.90" y="389.84" width="12.82" height="8.41" fill="#f7af98"/>
<rect x="126.57" y="389.84" width="6.48" height="8.41" fill="#ef5d2d"/>
<rect x="75.90" y="398.10" width="6.48" height="8.41" fill="#f38461"/>
<rect x="82.23" y="398.10" width="12.82" height="8.41" fill="#f7af98"/>
<rect x="94.90" y="398.10" width="6.48" height="8.41" fill="#8e90c5"/>
<rect x="101.23" y="398.10" width="6.48" height="8.41" fill="#c5c5e0"/>
<rect x="107.57" y="398.10" width="6.48" height="8.41" fill="#8e90c5"/>
<rect x="113.90" y="398.10" width="6.48" height="8.41" fill="#fbd5c8"/>
<rect x="120.23" y="398.10" width="12.82" height="8.41" fill="#f7af98"/>
<rect x="75.90" y="406.36" width="6.48" height="8.41" fill="#f38461"/>
<rect x="82.23" y="406.36" width="12.82" height="8.41" fill="#f7af98"/>
<rect x="94.90" y="406.36" width="12.82" height="8.41" fill="#c5c5e0"/>
<rect x="107.57" y="406.36" width="6.48" height="8.41" fill="#6470b3"/>
<rect x="113.90" y="406.36" width="6.48" height="8.41" fill="#f7af98"/>
<rect x="120.23" y="406.36" width="6.48" height="8.41" fill="#6470b3"/>
<rect x="126.57" y="406.36" width="6.48" height="8.41" fill="#f7af98"/>
<rect x="75.90" y="414.62" width="12.82" height="8.41" fill="#f38461"/>
<rect x="88.57" y="414.62" width="6.48" height="8.41" fill="#f7af98"/>
<rect x="94.90" y="414.62" width="12.82" height="8.41" fill="#c5c5e0"/>
<rect x="107.57" y="414.62" width="6.48" height="8.41" fill="#8e90c5"/>
<rect x="113.90" y="414.62" width="6.48" height="8.41" fill="#f7af98"/>
<rect x="120.23" y="414.62" width="6.48" height="8.41" fill="#fbd5c8"/>
<rect x="126.57" y="414.62" width="6.48" height="8.41" fill="#f7af98"/>
<rect x="75.90" y="422.88" width="6.48" height="8.41" fill="#f7af98"/>
<rect x="82.23" y="422.88" width="6.48" height="8.41" fill="#f38461"/>
<rect x="88.57" y="422.88" width="6.48" height="8.41" fill="#f7af98"/>
<rect x="94.90" y="422.88" width="6.48" height="8.41" fill="#c5c5e0"/>
<rect x="101.23" y="422.88" width="12.82" height="8.41" fill="#8e90c5"/>
<rect x="113.90" y="422.88" width="19.15" height="8.41" fill="#f7af98"/>
<rect x="75.90" y="431.15" width="6.48" height="8.41" fill="#f7af98"/>
<rect x="82.23" y="431.15" width="6.48" height="8.41" fill="#f38461"/>
<rect x="88.57" y="431.15" width="6.48" height="8.41" fill="#fbd5c8"/>
<rect x="94.90" y="431.15" width="6.48" height="8.41" fill="#c5c5e0"/>
<rect x="101.23" y="431.15" width="12.82" height="8.41" fill="#8e90c5"/>
<rect x="113.90" y="431.15" width="6.48" height="8.41" fill="#f7af98"/>
<rect x="120.23" y="431.15" width="6.48" height="8.41" fill="#fbd5c8"/>
<rect x="126.57" y="431.15" width="6.48" height="8.41" fill="#f7af98"/>
<rect x="75.90" y="439.41" width="12.82" height="8.41" fill="#f38461"/>
<rect x="88.57" y="439.41" width="6.48" height="8.41" fill="#f7af98"/>
<rect x="94.90" y="439.41" width="6.48" height="8.41" fill="#8e90c5"/>
<rect x="101.23" y="439.41" width="6.48" height="8.41" fill="#6470b3"/>
<rect x="107.57" y="439.41" width="6.48" height="8.41" fill="#8e90c5"/>
<rect x="113.90" y="439.41" width="19.15" height="8.41" fill="#fbd5c8"/>
<rect x="75.90" y="447.67" width="6.48" height="8.41" fill="#f38461"/>
<rect x="82.23" y="447.67" width="6.48" height="8.41" fill="#ef5d2d"/>
<rect x="88.57" y="447.67" width="6.48" height="8.41" fill="#f38461"/>
<rect x="94.90" y="447.67" width="6.48" height="8.41" fill="#8e90c5"/>
<rect x="101.23" y="447.67" width="12.82" height="8.41" fill="#c5c5e0"/>
<rect x="113.90" y="447.67" width="6.48" height="8.41" fill="#fbd5c8"/>
<rect x="120.23" y="447.67" width="6.48" height="8.41" fill="#ffffff"/>
<rect x="126.57" y="447.67" width="6.48" height="8.41" fill="#fbd5c8"/>
<rect x="75.90" y="455.93" width="6.48" height="8.41" fill="#ef5d2d"/>
<rect x="82.23" y="455.93" width="12.82" height="8.41" fill="#f38461"/>
<rect x="94.90" y="455.93" width="12.82" height="8.41" fill="#8e90c5"/>
<rect x="107.57" y="455.93" width="6.48" height="8.41" fill="#6470b3"/>
<rect x="113.90" y="455.93" width="6.48" height="8.41" fill="#fbd5c8"/>
<rect x="120.23" y="455.93" width="12.82" height="8.41" fill="#c5c5e0"/>
<rect x="75.90" y="464.19" width="6.48" height="8.41" fill="#f7af98"/>
<rect x="82.23" y="464.19" width="12.82" height="8.41" fill="#f38461"/>
<rect x="94.90" y="464.19" width="6.48" height="8.41" fill="#6470b3"/>
<rect x="101.23" y="464.19" width="6.48" height="8.41" fill="#c5c5e0"/>
<rect x="107.57" y="464.19" width="6.48" height="8.41" fill="#8e90c5"/>
<rect x="113.90" y="464.19" width="6.48" height="8.41" fill="#fbd5c8"/>
<rect x="120.23" y="464.19" width="6.48" height="8.41" fill="#f7af98"/>
<rect x="126.57" y="464.19" width="6.48" height="8.41" fill="#fbd5c8"/>
<rect x="75.90" y="472.45" width="6.48" height="8.41" fill="#f7af98"/>
<rect x="82.23" y="472.45" width="6.48" height="8.41" fill="#ef5d2d"/>
<rect x="88.57" y="472.45" width="6.48" height="8.41" fill="#f38461"/>
<rect x="94.90" y="472.45" width="6.48" height="8.41" fill="#8e90c5"/>
<rect x="101.23" y="472.45" width="6.48" height="8.41" fill="#6470b3"/>
<rect x="107.57" y="472.45" width="6.48" height="8.41" fill="#c5c5e0"/>
<rect x="113.90" y="472.45" width="12.82" height="8.41" fill="#ffffff"/>
<rect x="126.57" y="472.45" width="6.48" height="8.41" fill="#c5c5e0"/>
<rect x="75.90" y="480.71" width="6.48" height="8.41" fill="#f7af98"/>
<rect x="82.23" y="480.71" width="6.48" height="8.41" fill="#ef5d2d"/>
<rect x="88.57" y="480.71" width="6.48" height="8.41" fill="#f38461"/>
<rect x="94.90" y="480.71" width="12.82" height="8.41" fill="#8e90c5"/>
<rect x="107.57" y="480.71" width="6.48" height="8.41" fill="#6470b3"/>
<rect x="113.90" y="480.71" width="19.15" height="8.41" fill="#ffffff"/>
<rect x="75.90" y="488.97" width="6.48" height="8.41" fill="#6470b3"/>
<rect x="82.23" y="488.97" width="6.48" height="8.41" fill="#c5c5e0"/>
<rect x="88.57" y="488.97" width="6.48" height="8.41" fill="#6470b3"/>
<rect x="94.90" y="488.97" width="6.48" height="8.41" fill="#fbd5c8"/>
<rect x="101.23" y="488.97" width="12.82" height="8.41" fill="#f7af98"/>
<rect x="113.90" y="488.97" width="12.82" height="8.41" fill="#6470b3"/>
<rect x="126.57" y="488.97" width="6.48" height="8.41" fill="#3e57a6"/>
<rect x="75.90" y="497.23" width="12.82" height="8.41" fill="#f7af98"/>
<rect x="88.57" y="497.23" width="6.48" height="8.41" fill="#fbd5c8"/>
<rect x="94.90" y="497.23" width="6.48" height="8.41" fill="#8e90c5"/>
<rect x="101.23" y="497.23" width="12.82" height="8.41" fill="#6470b3"/>
<rect x="113.90" y="497.23" width="6.48" height="8.41" fill="#f7af98"/>
<rect x="120.23" y="497.23" width="6.48" height="8.41" fill="#ef5d2d"/>
<rect x="126.57" y="497.23" width="6.48" height="8.41" fill="#f7af98"/>
<rect x="75.90" y="505.49" width="19.15" height="8.41" fill="#6470b3"/>
<rect x="94.90" y="505.49" width="6.48" height="8.41" fill="#f7af98"/>
<rect x="101.23" y="505.49" width="6.48" height="8.41" fill="#f38461"/>
<rect x="107.57" y="505.49" width="6.48" height="8.41" fill="#ef5d2d"/>
<rect x="113.90" y="505.49" width="19.15" height="8.41" fill="#6470b3"/>
<rect x="75.90" y="513.75" width="12.82" height="8.41" fill="#f38461"/>
<rect x="88.57" y="513.75" width="6.48" height="8.41" fill="#f7af98"/>
<rect x="94.90" y="513.75" width="6.48" height="8.41" fill="#c5c5e0"/>
<rect x="101.23" y="513.75" width="6.48" height="8.41" fill="#6470b3"/>
<rect x="107.57" y="513.75" width="6.48" height="8.41" fill="#8e90c5"/>
<rect x="113.90" y="513.75" width="6.48" height="8.41" fill="#fbd5c8"/>
<rect x="120.23" y="513.75" width="6.48" height="8.41" fill="#ef5d2d"/>
<rect x="126.57" y="513.75" width="6.48" height="8.41" fill="#ffffff"/>
<rect x="75.90" y="522.01" width="6.48" height="8.41" fill="#fbd5c8"/>
<rect x="82.23" y="522.01" width="6.48" height="8.41" fill="#f7af98"/>
<rect x="88.57" y="522.01" width="6.48" height="8.41" fill="#ffffff"/>
<rect x="94.90" y="522.01" width="12.82" height="8.41" fill="#8e90c5"/>
<rect x="107.57" y="522.01" width="6.48" height="8.41" fill="#6470b3"/>
<rect x="113.90" y="522.01" width="6.48" height="8.41" fill="#ffffff"/>
<rect x="120.23" y="522.01" width="6.48" height="8.41" fill="#ef5d2d"/>
<rect x="126.57" y="522.01" width="6.48" height="8.41" fill="#c5c5e0"/>
<rect x="75.90" y="530.27" width="6.48" height="8.41" fill="#f7af98"/>
<rect x="82.23" y="530.27" width="6.48" height="8.41" fill="#ef5d2d"/>
<rect x="88.57" y="530.27" width="6.48" height="8.41" fill="#f7af98"/>
<rect x="94.90" y="530.27" width="6.48" height="8.41" fill="#c5c5e0"/>
<rect x="101.23" y="530.27" width="6.48" height="8.41" fill="#ffffff"/>
<rect x="107.57" y="530.27" width="6.48" height="8.41" fill="#c5c5e0"/>
<rect x="113.90" y="530.27" width="12.82" height="8.41" fill="#fbd5c8"/>
<rect x="126.57" y="530.27" width="6.48" height="8.41" fill="#8e90c5"/>
<rect x="75.90" y="538.53" width="12.82" height="8.41" fill="#f38461"/>
<rect x="88.57" y="538.53" width="6.48" height="8.41" fill="#f7af98"/>
<rect x="94.90" y="538.53" width="12.82" height="8.41" fill="#c5c5e0"/>
<rect x="107.57" y="538.53" width="6.48" height="8.41" fill="#8e90c5"/>
<rect x="113.90" y="538.53" width="6.48" height="8.41" fill="#ffffff"/>
<rect x="120.23" y="538.53" width="6.48" height="8.41" fill="#f7af98"/>
<rect x="126.57" y="538.53" width="6.48" height="8.41" fill="#fbd5c8"/>
<rect x="75.90" y="546.79" width="6.48" height="8.41" fill="#f7af98"/>
<rect x="82.23" y="546.79" width="6.48" height="8.41" fill="#ef5d2d"/>
<rect x="88.57" y="546.79" width="6.48" height="8.41" fill="#f7af98"/>
<rect x="94.90" y="546.79" width="6.48" height="8.41" fill="#6470b3"/>
<rect x="101.23" y="546.79" width="6.48" height="8.41" fill="#3e57a6"/>
<rect x="107.57" y="546.79" width="6.48" height="8.41" fill="#6470b3"/>
<rect x="113.90" y="546.79" width="6.48" height="8.41" fill="#f7af98"/>
<rect x="120.23" y="546.79" width="6.48" height="8.41" fill="#fbd5c8"/>
<rect x="126.57" y="546.79" width="6.48" height="8.41" fill="#ffffff"/>
<rect x="75.90" y="555.05" width="6.48" height="8.41" fill="#f7af98"/>
<rect x="82.23" y="555.05" width="12.82" height="8.41" fill="#f38461"/>
<rect x="94.90" y="555.05" width="19.15" height="8.41" fill="#8e90c5"/>
<rect x="113.90" y="555.05" width="6.48" height="8.41" fill="#ffffff"/>
<rect x="120.23" y="555.05" width="6.48" height="8.41" fill="#fbd5c8"/>
<rect x="126.57" y="555.05" width="6.48" height="8.41" fill="#ffffff"/>
<rect x="75.90" y="563.31" width="6.48" height="8.41" fill="#f7af98"/>
<rect x="82.23" y="563.31" width="6.48" height="8.41" fill="#ef5d2d"/>
<rect x="88.57" y="563.31" width="6.48" height="8.41" fill="#f7af98"/>
<rect x="94.90" y="563.31" width="6.48" height="8.41" fill="#8e90c5"/>
<rect x="101.23" y="563.31" width="6.48" height="8.41" fill="#c5c5e0"/>
<rect x="107.57" y="563.31" width="6.48" height="8.41" fill="#8e90c5"/>
<rect x="113.90" y="563.31" width="6.48" height="8.41" fill="#fbd5c8"/>
<rect x="120.23" y="563.31" width="6.48" height="8.41" fill="#ffffff"/>
<rect x="126.57" y="563.31" width="6.48" height="8.41" fill="#c5c5e0"/>
<rect x="75.90" y="571.57" width="6.48" height="8.41" fill="#f7af98"/>
<rect x="82.23" y="571.57" width="6.48" height="8.41" fill="#ef5d2d"/>
<rect x="88.57" y="571.57" width="6.48" height="8.41" fill="#f38461"/>
<rect x="94.90" y="571.57" width="6.48" height="8.41" fill="#8e90c5"/>
<rect x="101.23" y="571.57" width="6.48" height="8.41" fill="#6470b3"/>
<rect x="107.57" y="571.57" width="6.48" height="8.41" fill="#8e90c5"/>
<rect x="113.90" y="571.57" width="6.48" height="8.41" fill="#fbd5c8"/>
<rect x="120.23" y="571.57" width="6.48" height="8.41" fill="#f7af98"/>
<rect x="126.57" y="571.57" width="6.48" height="8.41" fill="#fbd5c8"/>
<rect x="75.90" y="579.83" width="6.48" height="8.41" fill="#f7af98"/>
<rect x="82.23" y="579.83" width="6.48" height="8.41" fill="#ef5d2d"/>
<rect x="88.57" y="579.83" width="6.48" height="8.41" fill="#f7af98"/>
<rect x="94.90" y="579.83" width="6.48" height="8.41" fill="#8e90c5"/>
<rect x="101.23" y="579.83" width="12.82" height="8.41" fill="#6470b3"/>
<rect x="113.90" y="579.83" width="6.48" height="8.41" fill="#ffffff"/>
<rect x="120.23" y="579.83" width="6.48" height="8.41" fill="#fbd5c8"/>
<rect x="126.57" y="579.83" width="6.48" height="8.41" fill="#ffffff"/>
<rect x="75.90" y="588.09" width="6.48" height="8.41" fill="#f7af98"/>
<rect x="82.23" y="588.09" width="6.48" height="8.41" fill="#ef5d2d"/>
<rect x="88.57" y="588.09" width="6.48" height="8.41" fill="#f7af98"/>
<rect x="94.90" y="588.09" width="12.82" height="8.41" fill="#8e90c5"/>
<rect x="107.57" y="588.09" width="6.48" height="8.41" fill="#6470b3"/>
<rect x="113.90" y="588.09" width="6.48" height="8.41" fill="#fbd5c8"/>
<rect x="120.23" y="588.09" width="12.82" height="8.41" fill="#ffffff"/>
<rect x="75.90" y="596.35" width="6.48" height="8.41" fill="#f7af98"/>
<rect x="82.23" y="596.35" width="6.48" height="8.41" fill="#ef5d2d"/>
<rect x="88.57" y="596.35" width="6.48" height="8.41" fill="#f7af98"/>
<rect x="94.90" y="596.35" width="12.82" height="8.41" fill="#8e90c5"/>
<rect x="107.57" y="596.35" width="6.48" height="8.41" fill="#6470b3"/>
<rect x="113.90" y="596.35" width="12.82" height="8.41" fill="#fbd5c8"/>
<rect x="126.57" y="596.35" width="6.48" height="8.41" fill="#ffffff"/>
<rect x="75.90" y="604.61" width="6.48" height="8.41" fill="#f7af98"/>
<rect x="82.23" y="604.61" width="6.48" height="8.41" fill="#ef5d2d"/>
<rect x="88.57" y="604.61" width="6.48" height="8.41" fill="#f7af98"/>
<rect x="94.90" y="604.61" width="6.48" height="8.41" fill="#8e90c5"/>
<rect x="101.23" y="604.61" width="12.82" height="8.41" fill="#6470b3"/>
<rect x="113.90" y="604.61" width="6.48" height="8.41" fill="#f7af98"/>
<rect x="120.23" y="604.61" width="6.48" height="8.41" fill="#fbd5c8"/>
<rect x="126.57" y="604.61" width="6.48" height="8.41" fill="#ffffff"/>
<rect x="75.90" y="612.87" width="12.82" height="8.41" fill="#8e90c5"/>
<rect x="88.57" y="612.87" width="6.48" height="8.41" fill="#6470b3"/>
<rect x="94.90" y="612.87" width="6.48" height="8.41" fill="#f38461"/>
<rect x="101.23" y="612.87" width="6.48" height="8.41" fill="#f7af98"/>
<rect x="107.57" y="612.87" width="6.48" height="8.41" fill="#f38461"/>
<rect x="113.90" y="612.87" width="6.48" height="8.41" fill="#6470b3"/>
<rect x="120.23" y="612.87" width="6.48" height="8.41" fill="#8e90c5"/>
<rect x="126.57" y="612.87" width="6.48" height="8.41" fill="#6470b3"/>
<rect x="75.90" y="621.13" width="19.15" height="8.41" fill="#6470b3"/>
<rect x="94.90" y="621.13" width="6.48" height="8.41" fill="#f38461"/>
<rect x="101.23" y="621.13" width="12.82" height="8.41" fill="#f7af98"/>
<rect x="113.90" y="621.13" width="12.82" height="8.41" fill="#6470b3"/>
<rect x="126.57" y="621.13" width="6.48" height="8.41" fill="#8e90c5"/>
<rect x="75.90" y="629.39" width="6.48" height="8.41" fill="#f38461"/>
<rect x="82.23" y="629.39" width="6.48" height="8.41" fill="#ef5d2d"/>
<rect x="88.57" y="629.39" width="6.48" height="8.41" fill="#f7af98"/>
<rect x="94.90" y="629.39" width="12.82" height="8.41" fill="#8e90c5"/>
<rect x="107.57" y="629.39" width="6.48" height="8.41" fill="#6470b3"/>
<rect x="113.90" y="629.39" width="6.48" height="8.41" fill="#fbd5c8"/>
<rect x="120.23" y="629.39" width="6.48" height="8.41" fill="#f7af98"/>
<rect x="126.57" y="629.39" width="6.48" height="8.41" fill="#fbd5c8"/>
<rect x="75.90" y="637.65" width="6.48" height="8.41" fill="#f7af98"/>
<rect x="82.23" y="637.65" width="6.48" height="8.41" fill="#f38461"/>
<rect x="88.57" y="637.65" width="6.48" height="8.41" fill="#f7af98"/>
<rect x="94.90" y="637.65" width="12.82" height="8.41" fill="#ffffff"/>
<rect x="107.57" y="637.65" width="6.48" height="8.41" fill="#c5c5e0"/>
<rect x="113.90" y="637.65" width="12.82" height="8.41" fill="#fbd5c8"/>
<rect x="126.57" y="637.65" width="6.48" height="8.41" fill="#ffffff"/>
<rect x="75.90" y="645.91" width="6.48" height="8.41" fill="#f7af98"/>
<rect x="82.23" y="645.91" width="6.48" height="8.41" fill="#ef5d2d"/>
<rect x="88.57" y="645.91" width="6.48" height="8.41" fill="#fbd5c8"/>
<rect x="94.90" y="645.91" width="6.48" height="8.41" fill="#8e90c5"/>
<rect x="101.23" y="645.91" width="6.48" height="8.41" fill="#6470b3"/>
<rect x="107.57" y="645.91" width="6.48" height="8.41" fill="#8e90c5"/>
<rect x="113.90" y="645.91" width="19.15" height="8.41" fill="#f7af98"/>
<rect x="75.90" y="654.17" width="19.15" height="8.41" fill="#f38461"/>
<rect x="94.90" y="654.17" width="6.48" height="8.41" fill="#8e90c5"/>
<rect x="101.23" y="654.17" width="6.48" height="8.41" fill="#6470b3"/>
<rect x="107.57" y="654.17" width="6.48" height="8.41" fill="#3e57a6"/>
<rect x="113.90" y="654.17" width="6.48" height="8.41" fill="#f7af98"/>
<rect x="120.23" y="654.17" width="6.48" height="8.41" fill="#c5c5e0"/>
<rect x="126.57" y="654.17" width="6.48" height="8.41" fill="#ef5d2d"/>
<rect x="75.90" y="662.43" width="6.48" height="8.41" fill="#6470b3"/>
<rect x="82.23" y="662.43" width="6.48" height="8.41" fill="#3e57a6"/>
<rect x="88.57" y="662.43" width="6.48" height="8.41" fill="#6470b3"/>
<rect x="94.90" y="662.43" width="6.48" height="8.41" fill="#f7af98"/>
<rect x="101.23" y="662.43" width="6.48" height="8.41" fill="#fbd5c8"/>
<rect x="107.57" y="662.43" width="6.48" height="8.41" fill="#f7af98"/>
<rect x="113.90" y="662.43" width="6.48" height="8.41" fill="#c5c5e0"/>
<rect x="120.23" y="662.43" width="6.48" height="8.41" fill="#ffffff"/>
<rect x="126.57" y="662.43" width="6.48" height="8.41" fill="#8e90c5"/>
<rect x="75.90" y="670.69" width="19.15" height="8.41" fill="#8e90c5"/>
<rect x="94.90" y="670.69" width="6.48" height="8.41" fill="#f7af98"/>
<rect x="101.23" y="670.69" width="6.48" height="8.41" fill="#fbd5c8"/>
<rect x="107.57" y="670.69" width="6.48" height="8.41" fill="#c5c5e0"/>
<rect x="113.90" y="670.69" width="6.48" height="8.41" fill="#8e90c5"/>
<rect x="120.23" y="670.69" width="6.48" height="8.41" fill="#3e57a6"/>
<rect x="126.57" y="670.69" width="6.48" height="8.41" fill="#c5c5e0"/>
<rect x="75.90" y="678.95" width="6.48" height="8.41" fill="#c5c5e0"/>
<rect x="82.23" y="678.95" width="6.48" height="8.41" fill="#3e57a6"/>
<rect x="88.57" y="678.95" width="6.48" height="8.41" fill="#8e90c5"/>
<rect x="94.90" y="678.95" width="6.48" height="8.41" fill="#f7af98"/>
<rect x="101.23" y="678.95" width="6.48" height="8.41" fill="#f38461"/>
<rect x="107.57" y="678.95" width="6.48" height="8.41" fill="#c5c5e0"/>
<rect x="113.90" y="678.95" width="12.82" height="8.41" fill="#8e90c5"/>
<rect x="126.57" y="678.95" width="6.48" height="8.41" fill="#c5c5e0"/>
<rect x="75.90" y="687.21" width="6.48" height="8.41" fill="#8e90c5"/>
<rect x="82.23" y="687.21" width="6.48" height="8.41" fill="#6470b3"/>
<rect x="88.57" y="687.21" width="6.48" height="8.41" fill="#c5c5e0"/>
<rect x="94.90" y="687.21" width="6.48" height="8.41" fill="#f7af98"/>
<rect x="101.23" y="687.21" width="6.48" height="8.41" fill="#ef5d2d"/>
<rect x="107.57" y="687.21" width="6.48" height="8.41" fill="#fbd5c8"/>
<rect x="113.90" y="687.21" width="12.82" height="8.41" fill="#8e90c5"/>
<rect x="126.57" y="687.21" width="6.48" height="8.41" fill="#c5c5e0"/>
<rect x="75.90" y="695.47" width="6.48" height="8.41" fill="#ffffff"/>
<rect x="82.23" y="695.47" width="6.48" height="8.41" fill="#fbd5c8"/>
<rect x="88.57" y="695.47" width="6.48" height="8.41" fill="#f7af98"/>
<rect x="94.90" y="695.47" width="6.48" height="8.41" fill="#8e90c5"/>
<rect x="101.23" y="695.47" width="6.48" height="8.41" fill="#c5c5e0"/>
<rect x="107.57" y="695.47" width="6.48" height="8.41" fill="#ffffff"/>
<rect x="113.90" y="695.47" width="6.48" height="8.41" fill="#fbd5c8"/>
<rect x="120.23" y="695.47" width="6.48" height="8.41" fill="#f7af98"/>
<rect x="126.57" y="695.47" width="6.48" height="8.41" fill="#f38461"/>
<rect x="75.90" y="703.73" width="6.48" height="8.41" fill="#f38461"/>
<rect x="82.23" y="703.73" width="6.48" height="8.41" fill="#ef5d2d"/>
<rect x="88.57" y="703.73" width="6.48" height="8.41" fill="#ffffff"/>
<rect x="94.90" y="703.73" width="19.15" height="8.41" fill="#8e90c5"/>
<rect x="113.90" y="703.73" width="6.48" height="8.41" fill="#f7af98"/>
<rect x="120.23" y="703.73" width="12.82" height="8.41" fill="#c5c5e0"/>
<rect x="75.90" y="711.99" width="19.15" height="8.41" fill="#6470b3"/>
<rect x="94.90" y="711.99" width="19.15" height="8.41" fill="#f7af98"/>
<rect x="113.90" y="711.99" width="6.48" height="8.41" fill="#8e90c5"/>
<rect x="120.23" y="711.99" width="6.48" height="8.41" fill="#6470b3"/>
<rect x="126.57" y="711.99" width="6.48" height="8.41" fill="#8e90c5"/>
<rect x="75.90" y="720.25" width="6.48" height="8.41" fill="#fbd5c8"/>
<rect x="82.23" y="720.25" width="12.82" height="8.41" fill="#f38461"/>
<rect x="94.90" y="720.25" width="12.82" height="8.41" fill="#8e90c5"/>
<rect x="107.57" y="720.25" width="6.48" height="8.41" fill="#c5c5e0"/>
<rect x="113.90" y="720.25" width="6.48" height="8.41" fill="#6470b3"/>
<rect x="120.23" y="720.25" width="6.48" height="8.41" fill="#f7af98"/>
<rect x="126.57" y="720.25" width="6.48" height="8.41" fill="#fbd5c8"/>
<rect x="75.90" y="728.52" width="19.15" height="8.41" fill="#6470b3"/>
<rect x="94.90" y="728.52" width="6.48" height="8.41" fill="#f7af98"/>
<rect x="101.23" y="728.52" width="6.48" height="8.41" fill="#fbd5c8"/>
<rect x="107.57" y="728.52" width="6.48" height="8.41" fill="#ef5d2d"/>
<rect x="113.90" y="728.52" width="12.82" height="8.41" fill="#8e90c5"/>
<rect x="126.57" y="728.52" width="6.48" height="8.41" fill="#c5c5e0"/>
<rect x="75.90" y="736.78" width="19.15" height="8.41" fill="#6470b3"/>
<rect x="94.90" y="736.78" width="6.48" height="8.41" fill="#c5c5e0"/>
<rect x="101.23" y="736.78" width="12.82" height="8.41" fill="#ffffff"/>
<rect x="113.90" y="736.78" width="6.48" height="8.41" fill="#8e90c5"/>
<rect x="120.23" y="736.78" width="6.48" height="8.41" fill="#6470b3"/>
<rect x="126.57" y="736.78" width="6.48" height="8.41" fill="#ffffff"/>
<rect x="75.90" y="745.04" width="6.48" height="8.41" fill="#f7af98"/>
<rect x="82.23" y="745.04" width="6.48" height="8.41" fill="#8e90c5"/>
<rect x="88.57" y="745.04" width="6.48" height="8.41" fill="#f38461"/>
<rect x="94.90" y="745.04" width="6.48" height="8.41" fill="#c5c5e0"/>
<rect x="101.23" y="745.04" width="12.82" height="8.41" fill="#6470b3"/>
<rect x="113.90" y="745.04" width="6.48" height="8.41" fill="#f7af98"/>
<rect x="120.23" y="745.04" width="6.48" height="8.41" fill="#c5c5e0"/>
<rect x="126.57" y="745.04" width="6.48" height="8.41" fill="#fbd5c8"/>
<rect x="75.90" y="753.30" width="6.48" height="8.41" fill="#8e90c5"/>
<rect x="82.23" y="753.30" width="6.48" height="8.41" fill="#f7af98"/>
<rect x="88.57" y="753.30" width="6.48" height="8.41" fill="#c5c5e0"/>
<rect x="94.90" y="753.30" width="19.15" height="8.41" fill="#6470b3"/>
<rect x="113.90" y="753.30" width="6.48" height="8.41" fill="#ffffff"/>
<rect x="120.23" y="753.30" width="12.82" height="8.41" fill="#8e90c5"/>
<rect x="75.90" y="761.56" width="6.48" height="8.41" fill="#f38461"/>
<rect x="82.23" y="761.56" width="12.82" height="8.41" fill="#f7af98"/>
<rect x="94.90" y="761.56" width="6.48" height="8.41" fill="#8e90c5"/>
<rect x="101.23" y="761.56" width="6.48" height="8.41" fill="#6470b3"/>
<rect x="107.57" y="761.56" width="6.48" height="8.41" fill="#8e90c5"/>
<rect x="113.90" y="761.56" width="19.15" height="8.41" fill="#f7af98"/>
<rect x="75.90" y="769.82" width="6.48" height="8.41" fill="#f7af98"/>
<rect x="82.23" y="769.82" width="6.48" height="8.41" fill="#ef5d2d"/>
<rect x="88.57" y="769.82" width="6.48" height="8.41" fill="#fbd5c8"/>
<rect x="94.90" y="769.82" width="6.48" height="8.41" fill="#ffffff"/>
<rect x="101.23" y="769.82" width="12.82" height="8.41" fill="#8e90c5"/>
<rect x="113.90" y="769.82" width="6.48" height="8.41" fill="#f7af98"/>
<rect x="120.23" y="769.82" width="6.48" height="8.41" fill="#c5c5e0"/>
<rect x="126.57" y="769.82" width="6.48" height="8.41" fill="#fbd5c8"/>
<rect x="75.90" y="778.08" width="6.48" height="8.41" fill="#fbd5c8"/>
<rect x="82.23" y="778.08" width="6.48" height="8.41" fill="#ef5d2d"/>
<rect x="88.57" y="778.08" width="6.48" height="8.41" fill="#f7af98"/>
<rect x="94.90" y="778.08" width="12.82" height="8.41" fill="#8e90c5"/>
<rect x="107.57" y="778.08" width="6.48" height="8.41" fill="#6470b3"/>
<rect x="113.90" y="778.08" width="6.48" height="8.41" fill="#f7af98"/>
<rect x="120.23" y="778.08" width="6.48" height="8.41" fill="#f38461"/>
<rect x="126.57" y="778.08" width="6.48" height="8.41" fill="#ffffff"/>
<rect x="75.90" y="786.34" width="6.48" height="8.41" fill="#f38461"/>
<rect x="82.23" y="786.34" width="6.48" height="8.41" fill="#ffffff"/>
<rect x="88.57" y="786.34" width="6.48" height="8.41" fill="#f7af98"/>
<rect x="94.90" y="786.34" width="6.48" height="8.41" fill="#8e90c5"/>
<rect x="101.23" y="786.34" width="6.48" height="8.41" fill="#6470b3"/>
<rect x="107.57" y="786.34" width="6.48" height="8.41" fill="#8e90c5"/>
<rect x="113.90" y="786.34" width="19.15" height="8.41" fill="#f7af98"/>
<rect x="75.90" y="794.60" width="6.48" height="8.41" fill="#c5c5e0"/>
<rect x="82.23" y="794.60" width="6.48" height="8.41" fill="#3e57a6"/>
<rect x="88.57" y="794.60" width="12.82" height="8.41" fill="#c5c5e0"/>
<rect x="101.23" y="794.60" width="12.82" height="8.41" fill="#f7af98"/>
<rect x="113.90" y="794.60" width="6.48" height="8.41" fill="#6470b3"/>
<rect x="120.23" y="794.60" width="12.82" height="8.41" fill="#8e90c5"/>
<rect x="75.90" y="802.86" width="6.48" height="8.41" fill="#fbd5c8"/>
<rect x="82.23" y="802.86" width="12.82" height="8.41" fill="#8e90c5"/>
<rect x="94.90" y="802.86" width="12.82" height="8.41" fill="#f7af98"/>
<rect x="107.57" y="802.86" width="6.48" height="8.41" fill="#ffffff"/>
<rect x="113.90" y="802.86" width="6.48" height="8.41" fill="#ef5d2d"/>
<rect x="120.23" y="802.86" width="12.82" height="8.41" fill="#6470b3"/>
<rect x="75.90" y="811.12" width="6.48" height="8.41" fill="#f38461"/>
<rect x="82.23" y="811.12" width="6.48" height="8.41" fill="#ef5d2d"/>
<rect x="88.57" y="811.12" width="6.48" height="8.41" fill="#f7af98"/>
<rect x="94.90" y="811.12" width="19.15" height="8.41" fill="#8e90c5"/>
<rect x="113.90" y="811.12" width="6.48" height="8.41" fill="#f7af98"/>
<rect x="120.23" y="811.12" width="6.48" height="8.41" fill="#ffffff"/>
<rect x="126.57" y="811.12" width="6.48" height="8.41" fill="#fbd5c8"/>
<rect x="75.90" y="819.38" width="19.15" height="8.41" fill="#f7af98"/>
<rect x="94.90" y="819.38" width="6.48" height="8.41" fill="#6470b3"/>
<rect x="101.23" y="819.38" width="6.48" height="8.41" fill="#3e57a6"/>
<rect x="107.57" y="819.38" width="6.48" height="8.41" fill="#6470b3"/>
<rect x="113.90" y="819.38" width="19.15" height="8.41" fill="#f7af98"/>
<rect x="75.90" y="827.64" width="6.48" height="8.41" fill="#f7af98"/>
<rect x="82.23" y="827.64" width="12.82" height="8.41" fill="#f38461"/>
<rect x="94.90" y="827.64" width="12.82" height="8.41" fill="#8e90c5"/>
<rect x="107.57" y="827.64" width="6.48" height="8.41" fill="#6470b3"/>
<rect x="113.90" y="827.64" width="12.82" height="8.41" fill="#f7af98"/>
<rect x="126.57" y="827.64" width="6.48" height="8.41" fill="#ffffff"/>
<rect x="75.90" y="835.90" width="19.15" height="8.41" fill="#6470b3"/>
<rect x="94.90" y="835.90" width="6.48" height="8.41" fill="#f7af98"/>
<rect x="101.23" y="835.90" width="12.82" height="8.41" fill="#f38461"/>
<rect x="113.90" y="835.90" width="19.15" height="8.41" fill="#8e90c5"/>
<rect x="75.90" y="844.16" width="6.48" height="8.41" fill="#ffffff"/>
<rect x="82.23" y="844.16" width="6.48" height="8.41" fill="#8e90c5"/>
<rect x="88.57" y="844.16" width="6.48" height="8.41" fill="#f7af98"/>
<rect x="94.90" y="844.16" width="6.48" height="8.41" fill="#f38461"/>
<rect x="101.23" y="844.16" width="12.82" height="8.41" fill="#f7af98"/>
<rect x="113.90" y="844.16" width="6.48" height="8.41" fill="#8e90c5"/>
<rect x="120.23" y="844.16" width="12.82" height="8.41" fill="#c5c5e0"/>
<rect x="75.90" y="852.42" width="6.48" height="8.41" fill="#6470b3"/>
<rect x="82.23" y="852.42" width="12.82" height="8.41" fill="#8e90c5"/>
<rect x="94.90" y="852.42" width="6.48" height="8.41" fill="#c5c5e0"/>
<rect x="101.23" y="852.42" width="6.48" height="8.41" fill="#ffffff"/>
<rect x="107.57" y="852.42" width="6.48" height="8.41" fill="#f7af98"/>
<rect x="113.90" y="852.42" width="6.48" height="8.41" fill="#8e90c5"/>
<rect x="120.23" y="852.42" width="12.82" height="8.41" fill="#c5c5e0"/>
<rect x="75.90" y="860.68" width="6.48" height="8.41" fill="#8e90c5"/>
<rect x="82.23" y="860.68" width="12.82" height="8.41" fill="#ffffff"/>
<rect x="94.90" y="860.68" width="12.82" height="8.41" fill="#f7af98"/>
<rect x="107.57" y="860.68" width="6.48" height="8.41" fill="#ef5d2d"/>
<rect x="113.90" y="860.68" width="12.82" height="8.41" fill="#fbd5c8"/>
<rect x="126.57" y="860.68" width="6.48" height="8.41" fill="#f7af98"/>
<rect x="75.90" y="868.94" width="6.48" height="8.41" fill="#f7af98"/>
<rect x="82.23" y="868.94" width="6.48" height="8.41" fill="#3e57a6"/>
<rect x="88.57" y="868.94" width="6.48" height="8.41" fill="#f7af98"/>
<rect x="94.90" y="868.94" width="6.48" height="8.41" fill="#fbd5c8"/>
<rect x="101.23" y="868.94" width="6.48" height="8.41" fill="#f7af98"/>
<rect x="107.57" y="868.94" width="6.48" height="8.41" fill="#c5c5e0"/>
<rect x="113.90" y="868.94" width="12.82" height="8.41" fill="#fbd5c8"/>
<rect x="126.57" y="868.94" width="6.48" height="8.41" fill="#ffffff"/>
<rect x="142.20" y="274.20" width="9.85" height="8.41" fill="#c5c5e0"/>
<rect x="151.90" y="274.20" width="9.85" height="8.41" fill="#fbd5c8"/>
<rect x="142.20" y="282.46" width="9.85" height="8.41" fill="#fbd5c8"/>
<rect x="151.90" y="282.46" width="9.85" height="8.41" fill="#8e90c5"/>
<rect x="142.20" y="290.72" width="9.85" height="8.41" fill="#8e90c5"/>
<rect x="151.90" y="290.72" width="9.85" height="8.41" fill="#f7af98"/>
<rect x="142.20" y="298.98" width="9.85" height="8.41" fill="#8e90c5"/>
<rect x="151.90" y="298.98" width="9.85" height="8.41" fill="#f7af98"/>
<rect x="142.20" y="307.24" width="9.85" height="8.41" fill="#8e90c5"/>
<rect x="151.90" y="307.24" width="9.85" height="8.41" fill="#fbd5c8"/>
<rect x="142.20" y="315.50" width="9.85" height="8.41" fill="#ffffff"/>
<rect x="151.90" y="315.50" width="9.85" height="8.41" fill="#c5c5e0"/>
<rect x="142.20" y="323.76" width="9.85" height="8.41" fill="#8e90c5"/>
<rect x="151.90" y="323.76" width="9.85" height="8.41" fill="#f7af98"/>
<rect x="142.20" y="332.02" width="9.85" height="8.41" fill="#8e90c5"/>
<rect x="151.90" y="332.02" width="9.85" height="8.41" fill="#f7af98"/>
<rect x="142.20" y="340.28" width="9.85" height="8.41" fill="#c5c5e0"/>
<rect x="151.90" y="340.28" width="9.85" height="8.41" fill="#ffffff"/>
<rect x="142.20" y="348.54" width="9.85" height="8.41" fill="#c5c5e0"/>
<rect x="151.90" y="348.54" width="9.85" height="8.41" fill="#fbd5c8"/>
<rect x="142.20" y="356.80" width="9.85" height="8.41" fill="#8e90c5"/>
<rect x="151.90" y="356.80" width="9.85" height="8.41" fill="#fbd5c8"/>
<rect x="142.20" y="365.06" width="9.85" height="8.41" fill="#f7af98"/>
<rect x="151.90" y="365.06" width="9.85" height="8.41" fill="#8e90c5"/>
<rect x="142.20" y="373.32" width="9.85" height="8.41" fill="#8e90c5"/>
<rect x="151.90" y="373.32" width="9.85" height="8.41" fill="#fbd5c8"/>
<rect x="142.20" y="381.58" width="9.85" height="8.41" fill="#c5c5e0"/>
<rect x="151.90" y="381.58" width="9.85" height="8.41" fill="#ffffff"/>
<rect x="142.20" y="389.84" width="9.85" height="8.41" fill="#8e90c5"/>
<rect x="151.90" y="389.84" width="9.85" height="8.41" fill="#fbd5c8"/>
<rect x="142.20" y="398.10" width="9.85" height="8.41" fill="#6470b3"/>
<rect x="151.90" y="398.10" width="9.85" height="8.41" fill="#f7af98"/>
<rect x="142.20" y="406.36" width="9.85" height="8.41" fill="#fbd5c8"/>
<rect x="151.90" y="406.36" width="9.85" height="8.41" fill="#8e90c5"/>
<rect x="142.20" y="414.62" width="9.85" height="8.41" fill="#f7af98"/>
<rect x="151.90" y="414.62" width="9.85" height="8.41" fill="#8e90c5"/>
<rect x="142.20" y="422.88" width="9.85" height="8.41" fill="#ffffff"/>
<rect x="151.90" y="422.88" width="9.85" height="8.41" fill="#c5c5e0"/>
<rect x="142.20" y="431.15" width="9.85" height="8.41" fill="#f7af98"/>
<rect x="151.90" y="431.15" width="9.85" height="8.41" fill="#6470b3"/>
<rect x="142.20" y="439.41" width="9.85" height="8.41" fill="#8e90c5"/>
<rect x="151.90" y="439.41" width="9.85" height="8.41" fill="#f7af98"/>
<rect x="142.20" y="447.67" width="9.85" height="8.41" fill="#f7af98"/>
<rect x="151.90" y="447.67" width="9.85" height="8.41" fill="#8e90c5"/>
<rect x="142.20" y="455.93" width="9.85" height="8.41" fill="#f7af98"/>
<rect x="151.90" y="455.93" width="9.85" height="8.41" fill="#6470b3"/>
<rect x="142.20" y="464.19" width="9.85" height="8.41" fill="#c5c5e0"/>
<rect x="151.90" y="464.19" width="9.85" height="8.41" fill="#ffffff"/>
<rect x="142.20" y="472.45" width="9.85" height="8.41" fill="#c5c5e0"/>
<rect x="151.90" y="472.45" width="9.85" height="8.41" fill="#ffffff"/>
<rect x="142.20" y="480.71" width="9.85" height="8.41" fill="#fbd5c8"/>
<rect x="151.90" y="480.71" width="9.85" height="8.41" fill="#8e90c5"/>
<rect x="142.20" y="488.97" width="9.85" height="8.41" fill="#c5c5e0"/>
<rect x="151.90" y="488.97" width="9.85" height="8.41" fill="#fbd5c8"/>
<rect x="142.20" y="497.23" width="9.85" height="8.41" fill="#8e90c5"/>
<rect x="151.90" y="497.23" width="9.85" height="8.41" fill="#fbd5c8"/>
<rect x="142.20" y="505.49" width="9.85" height="8.41" fill="#fbd5c8"/>
<rect x="151.90" y="505.49" width="9.85" height="8.41" fill="#c5c5e0"/>
<rect x="142.20" y="513.75" width="9.85" height="8.41" fill="#c5c5e0"/>
<rect x="151.90" y="513.75" width="9.85" height="8.41" fill="#ffffff"/>
<rect x="142.20" y="522.01" width="9.85" height="8.41" fill="#6470b3"/>
<rect x="151.90" y="522.01" width="9.85" height="8.41" fill="#f7af98"/>
<rect x="142.20" y="530.27" width="9.85" height="8.41" fill="#6470b3"/>
<rect x="151.90" y="530.27" width="9.85" height="8.41" fill="#f7af98"/>
<rect x="142.20" y="538.53" width="9.85" height="8.41" fill="#c5c5e0"/>
<rect x="151.90" y="538.53" width="9.85" height="8.41" fill="#ffffff"/>
<rect x="142.20" y="546.79" width="9.85" height="8.41" fill="#f7af98"/>
<rect x="151.90" y="546.79" width="9.85" height="8.41" fill="#6470b3"/>
<rect x="142.20" y="555.05" width="9.85" height="8.41" fill="#fbd5c8"/>
<rect x="151.90" y="555.05" width="9.85" height="8.41" fill="#8e90c5"/>
<rect x="142.20" y="563.31" width="9.85" height="8.41" fill="#c5c5e0"/>
<rect x="151.90" y="563.31" width="9.85" height="8.41" fill="#ffffff"/>
<rect x="142.20" y="571.57" width="9.85" height="8.41" fill="#fbd5c8"/>
<rect x="151.90" y="571.57" width="9.85" height="8.41" fill="#8e90c5"/>
<rect x="142.20" y="579.83" width="9.85" height="8.41" fill="#fbd5c8"/>
<rect x="151.90" y="579.83" width="9.85" height="8.41" fill="#8e90c5"/>
<rect x="142.20" y="588.09" width="9.85" height="8.41" fill="#ffffff"/>
<rect x="151.90" y="588.09" width="9.85" height="8.41" fill="#c5c5e0"/>
<rect x="142.20" y="596.35" width="9.85" height="8.41" fill="#6470b3"/>
<rect x="151.90" y="596.35" width="9.85" height="8.41" fill="#f7af98"/>
<rect x="142.20" y="604.61" width="9.85" height="8.41" fill="#fbd5c8"/>
<rect x="151.90" y="604.61" width="9.85" height="8.41" fill="#8e90c5"/>
<rect x="142.20" y="612.87" width="9.85" height="8.41" fill="#f7af98"/>
<rect x="151.90" y="612.87" width="9.85" height="8.41" fill="#6470b3"/>
<rect x="142.20" y="621.13" width="9.85" height="8.41" fill="#8e90c5"/>
<rect x="151.90" y="621.13" width="9.85" height="8.41" fill="#fbd5c8"/>
<rect x="142.20" y="629.39" width="9.85" height="8.41" fill="#8e90c5"/>
<rect x="151.90" y="629.39" width="9.85" height="8.41" fill="#f7af98"/>
<rect x="142.20" y="637.65" width="9.85" height="8.41" fill="#fbd5c8"/>
<rect x="151.90" y="637.65" width="9.85" height="8.41" fill="#c5c5e0"/>
<rect x="142.20" y="645.91" width="9.85" height="8.41" fill="#fbd5c8"/>
<rect x="151.90" y="645.91" width="9.85" height="8.41" fill="#8e90c5"/>
<rect x="142.20" y="654.17" width="9.85" height="8.41" fill="#6470b3"/>
<rect x="151.90" y="654.17" width="9.85" height="8.41" fill="#f7af98"/>
<rect x="142.20" y="662.43" width="9.85" height="8.41" fill="#f7af98"/>
<rect x="151.90" y="662.43" width="9.85" height="8.41" fill="#8e90c5"/>
<rect x="142.20" y="670.69" width="9.85" height="8.41" fill="#6470b3"/>
<rect x="151.90" y="670.69" width="9.85" height="8.41" fill="#f7af98"/>
<rect x="142.20" y="678.95" width="9.85" height="8.41" fill="#f7af98"/>
<rect x="151.90" y="678.95" width="9.85" height="8.41" fill="#6470b3"/>
<rect x="142.20" y="687.21" width="9.85" height="8.41" fill="#f7af98"/>
<rect x="151.90" y="687.21" width="9.85" height="8.41" fill="#6470b3"/>
<rect x="142.20" y="695.47" width="9.85" height="8.41" fill="#6470b3"/>
<rect x="151.90" y="695.47" width="9.85" height="8.41" fill="#f7af98"/>
<rect x="142.20" y="703.73" width="9.85" height="8.41" fill="#6470b3"/>
<rect x="151.90" y="703.73" width="9.85" height="8.41" fill="#f7af98"/>
<rect x="142.20" y="711.99" width="9.85" height="8.41" fill="#ffffff"/>
<rect x="151.90" y="711.99" width="9.85" height="8.41" fill="#c5c5e0"/>
<rect x="142.20" y="720.25" width="9.85" height="8.41" fill="#6470b3"/>
<rect x="151.90" y="720.25" width="9.85" height="8.41" fill="#f7af98"/>
<rect x="142.20" y="728.52" width="9.85" height="8.41" fill="#f7af98"/>
<rect x="151.90" y="728.52" width="9.85" height="8.41" fill="#8e90c5"/>
<rect x="142.20" y="736.78" width="9.85" height="8.41" fill="#f7af98"/>
<rect x="151.90" y="736.78" width="9.85" height="8.41" fill="#8e90c5"/>
<rect x="142.20" y="745.04" width="9.85" height="8.41" fill="#fbd5c8"/>
<rect x="151.90" y="745.04" width="9.85" height="8.41" fill="#8e90c5"/>
<rect x="142.20" y="753.30" width="9.85" height="8.41" fill="#6470b3"/>
<rect x="151.90" y="753.30" width="9.85" height="8.41" fill="#f7af98"/>
<rect x="142.20" y="761.56" width="9.85" height="8.41" fill="#fbd5c8"/>
<rect x="151.90" y="761.56" width="9.85" height="8.41" fill="#8e90c5"/>
<rect x="142.20" y="769.82" width="9.85" height="8.41" fill="#8e90c5"/>
<rect x="151.90" y="769.82" width="9.85" height="8.41" fill="#fbd5c8"/>
<rect x="142.20" y="778.08" width="9.85" height="8.41" fill="#8e90c5"/>
<rect x="151.90" y="778.08" width="9.85" height="8.41" fill="#fbd5c8"/>
<rect x="142.20" y="786.34" width="9.85" height="8.41" fill="#f7af98"/>
<rect x="151.90" y="786.34" width="9.85" height="8.41" fill="#6470b3"/>
<rect x="142.20" y="794.60" width="9.85" height="8.41" fill="#f7af98"/>
<rect x="151.90" y="794.60" width="9.85" height="8.41" fill="#8e90c5"/>
<rect x="142.20" y="802.86" width="9.85" height="8.41" fill="#8e90c5"/>
<rect x="151.90" y="802.86" width="9.85" height="8.41" fill="#f7af98"/>
<rect x="142.20" y="811.12" width="9.85" height="8.41" fill="#c5c5e0"/>
<rect x="151.90" y="811.12" width="9.85" height="8.41" fill="#ffffff"/>
<rect x="142.20" y="819.38" width="9.85" height="8.41" fill="#fbd5c8"/>
<rect x="151.90" y="819.38" width="9.85" height="8.41" fill="#8e90c5"/>
<rect x="142.20" y="827.64" width="9.85" height="8.41" fill="#6470b3"/>
<rect x="151.90" y="827.64" width="9.85" height="8.41" fill="#f7af98"/>
<rect x="142.20" y="835.90" width="9.85" height="8.41" fill="#f7af98"/>
<rect x="151.90" y="835.90" width="9.85" height="8.41" fill="#6470b3"/>
<rect x="142.20" y="844.16" width="9.85" height="8.41" fill="#f7af98"/>
<rect x="151.90" y="844.16" width="9.85" height="8.41" fill="#6470b3"/>
<rect x="142.20" y="852.42" width="9.85" height="8.41" fill="#6470b3"/>
<rect x="151.90" y="852.42" width="9.85" height="8.41" fill="#f7af98"/>
<rect x="142.20" y="860.68" width="9.85" height="8.41" fill="#c5c5e0"/>
<rect x="151.90" y="860.68" width="9.85" height="8.41" fill="#ffffff"/>
<rect x="142.20" y="868.94" width="9.85" height="8.41" fill="#6470b3"/>
<rect x="151.90" y="868.94" width="9.85" height="8.41" fill="#f7af98"/>
</g>
<rect x="7.90" y="274.20" width="18.70" height="603.00" fill="none" stroke="#111" stroke-width="1.0"/>
<rect x="26.60" y="274.20" width="18.90" height="603.00" fill="none" stroke="#111" stroke-width="1.0"/>
<rect x="45.50" y="274.20" width="18.70" height="603.00" fill="none" stroke="#111" stroke-width="1.0"/>
<rect x="75.90" y="274.20" width="18.90" height="603.00" fill="none" stroke="#111" stroke-width="1.0"/>
<rect x="94.80" y="274.20" width="19.10" height="603.00" fill="none" stroke="#111" stroke-width="1.0"/>
<rect x="113.90" y="274.20" width="19.00" height="603.00" fill="none" stroke="#111" stroke-width="1.0"/>
<rect x="142.20" y="274.20" width="19.40" height="603.00" fill="none" stroke="#111" stroke-width="1.0"/>
<line x1="470.70" y1="29.30" x2="472.40" y2="29.30" stroke="#1a1a1a" stroke-width="0.9"/>
<circle cx="472.40" cy="29.30" r="1.20" fill="#fff" stroke="#1a1a1a" stroke-width="0.8"/>
<line x1="468.83" y1="33.83" x2="470.03" y2="35.03" stroke="#1a1a1a" stroke-width="0.9"/>
<circle cx="470.03" cy="35.03" r="1.20" fill="#fff" stroke="#1a1a1a" stroke-width="0.8"/>
<line x1="464.30" y1="35.70" x2="464.30" y2="37.40" stroke="#1a1a1a" stroke-width="0.9"/>
<circle cx="464.30" cy="37.40" r="1.20" fill="#fff" stroke="#1a1a1a" stroke-width="0.8"/>
<line x1="459.77" y1="33.83" x2="458.57" y2="35.03" stroke="#1a1a1a" stroke-width="0.9"/>
<circle cx="458.57" cy="35.03" r="1.20" fill="#fff" stroke="#1a1a1a" stroke-width="0.8"/>
<line x1="457.90" y1="29.30" x2="456.20" y2="29.30" stroke="#1a1a1a" stroke-width="0.9"/>
<circle cx="456.20" cy="29.30" r="1.20" fill="#fff" stroke="#1a1a1a" stroke-width="0.8"/>
<line x1="459.77" y1="24.77" x2="458.57" y2="23.57" stroke="#1a1a1a" stroke-width="0.9"/>
<circle cx="458.57" cy="23.57" r="1.20" fill="#fff" stroke="#1a1a1a" stroke-width="0.8"/>
<line x1="464.30" y1="22.90" x2="464.30" y2="21.20" stroke="#1a1a1a" stroke-width="0.9"/>
<circle cx="464.30" cy="21.20" r="1.20" fill="#fff" stroke="#1a1a1a" stroke-width="0.8"/>
<line x1="468.83" y1="24.77" x2="470.03" y2="23.57" stroke="#1a1a1a" stroke-width="0.9"/>
<circle cx="470.03" cy="23.57" r="1.20" fill="#fff" stroke="#1a1a1a" stroke-width="0.8"/>
<circle cx="464.30" cy="29.30" r="6.30" fill="#fff" stroke="#1a1a1a" stroke-width="1.4"/>
<path d="M461.1,25.900000000000002 h6.4 l-1.5,7.2 q-1.7,1.2 -3.4,0 z" fill="#f0f0f0" stroke="#555" stroke-width="0.7" stroke-linejoin="round"/>
<path d="M465.2,26.5 q-3,0.3 -1.6,1.7 q2.6,0.6 0.2,1.6 q-2.4,0.9 0.2,1.9 q1.4,0.4 0.8,1" fill="none" stroke="#e8262c" stroke-width="1.25" stroke-linecap="round"/>
<text x="477.30" y="26.50" font-size="9.3" stroke="#1c1c1c" stroke-width="0.1">Dox inducible</text>
<text x="477.30" y="37.50" font-size="9.3" stroke="#1c1c1c" stroke-width="0.1"><tspan font-style="italic">HA-Nudt21</tspan> lentivirus</text>
<text x="464.30" y="48.40" font-size="9" text-anchor="middle" stroke="#1c1c1c" stroke-width="0.1">+</text>
<polygon points="459.42,56.84 456.24,53.54 458.39,49.49 462.91,50.29 463.54,54.83" fill="#b5713a" stroke="#3a2a1a" stroke-width="0.9" stroke-linejoin="round"/>
<circle cx="460.10" cy="53.00" r="1.56" fill="#9a9a9a" stroke="#2a2a2a" stroke-width="0.7"/>
<polygon points="470.99,57.81 466.54,58.92 464.11,55.03 467.06,51.52 471.31,53.23" fill="#b5713a" stroke="#3a2a1a" stroke-width="0.9" stroke-linejoin="round"/>
<circle cx="468.00" cy="55.30" r="1.56" fill="#9a9a9a" stroke="#2a2a2a" stroke-width="0.7"/>
<polygon points="463.78,64.64 459.66,62.63 460.29,58.09 464.81,57.29 466.96,61.34" fill="#b5713a" stroke="#3a2a1a" stroke-width="0.9" stroke-linejoin="round"/>
<circle cx="463.10" cy="60.80" r="1.56" fill="#9a9a9a" stroke="#2a2a2a" stroke-width="0.7"/>
<text x="476.00" y="59.00" font-size="9.3" stroke="#1c1c1c" stroke-width="0.1"><tspan font-style="italic">Nudt21<tspan font-size="4.8" dy="-3.2" stroke="none" fill="#444">fl/fl</tspan><tspan dy="3.2">, R26-CreER</tspan></tspan> esophageal basal stem cells</text>
<line x1="464.50" y1="68.80" x2="464.50" y2="77.40" stroke="#111" stroke-width="0.9"/>
<path d="M464.5,79.9 l-2,-3.6 h4 z" fill="#111"/>
<text x="438.20" y="91.40" font-size="9.3" stroke="#1c1c1c" stroke-width="0.1">+4OHT (day0)</text>
<rect x="614.30" y="70.40" width="41.70" height="26.80" fill="#e2e2e2"/>
<text x="618.00" y="80.70" font-size="9.3" stroke="#1c1c1c" stroke-width="0.1">dox+</text>
<line x1="640.40" y1="77.60" x2="650.80" y2="77.60" stroke="#ee5a5a" stroke-width="1.1"/>
<text x="618.00" y="93.70" font-size="9.3" stroke="#1c1c1c" stroke-width="0.1">dox-</text>
<line x1="640.40" y1="90.60" x2="650.80" y2="90.60" stroke="#4fc3ee" stroke-width="1.1"/>
<ellipse cx="465.5" cy="102.4" rx="11.3" ry="2.7" fill="#eef3f9" stroke="#a3c9ea" stroke-width="0.7"/>
<ellipse cx="465.5" cy="98.8" rx="11.3" ry="2.6" fill="#e5e6e9" stroke="#a3c9ea" stroke-width="0.7"/>
<ellipse cx="465.5" cy="102.8" rx="9.3" ry="1.35" fill="#ee5747"/>
<line x1="480.10" y1="100.50" x2="602.60" y2="100.50" stroke="#e8323c" stroke-width="1.5"/>
<path d="M605.6,100.5 l-3.8,-1.9 v3.8 z" fill="#e8323c"/>
<ellipse cx="465.5" cy="113.8" rx="11.3" ry="2.7" fill="#eef3f9" stroke="#a3c9ea" stroke-width="0.7"/>
<ellipse cx="465.5" cy="110.2" rx="11.3" ry="2.6" fill="#e5e6e9" stroke="#a3c9ea" stroke-width="0.7"/>
<ellipse cx="465.5" cy="114.2" rx="9.3" ry="1.35" fill="#ee5747"/>
<line x1="480.10" y1="112.10" x2="500.80" y2="112.10" stroke="#1aa7ea" stroke-width="1.5"/>
<line x1="500.80" y1="112.10" x2="602.60" y2="112.10" stroke="#e8323c" stroke-width="1.5"/>
<path d="M605.6,112.1 l-3.8,-1.9 v3.8 z" fill="#e8323c"/>
<ellipse cx="465.5" cy="125.7" rx="11.3" ry="2.7" fill="#eef3f9" stroke="#a3c9ea" stroke-width="0.7"/>
<ellipse cx="465.5" cy="122.1" rx="11.3" ry="2.6" fill="#e5e6e9" stroke="#a3c9ea" stroke-width="0.7"/>
<ellipse cx="465.5" cy="126.1" rx="9.3" ry="1.35" fill="#ee5747"/>
<line x1="480.10" y1="124.90" x2="521.80" y2="124.90" stroke="#1aa7ea" stroke-width="1.5"/>
<line x1="521.80" y1="124.90" x2="602.60" y2="124.90" stroke="#e8323c" stroke-width="1.5"/>
<path d="M605.6,124.9 l-3.8,-1.9 v3.8 z" fill="#e8323c"/>
<ellipse cx="465.5" cy="137.7" rx="11.3" ry="2.7" fill="#eef3f9" stroke="#a3c9ea" stroke-width="0.7"/>
<ellipse cx="465.5" cy="134.1" rx="11.3" ry="2.6" fill="#e5e6e9" stroke="#a3c9ea" stroke-width="0.7"/>
<ellipse cx="465.5" cy="138.1" rx="9.3" ry="1.35" fill="#ee5747"/>
<line x1="480.10" y1="136.60" x2="542.40" y2="136.60" stroke="#1aa7ea" stroke-width="1.5"/>
<line x1="542.40" y1="136.60" x2="602.60" y2="136.60" stroke="#e8323c" stroke-width="1.5"/>
<path d="M605.6,136.6 l-3.8,-1.9 v3.8 z" fill="#e8323c"/>
<ellipse cx="465.5" cy="150.2" rx="11.3" ry="2.7" fill="#eef3f9" stroke="#a3c9ea" stroke-width="0.7"/>
<ellipse cx="465.5" cy="146.6" rx="11.3" ry="2.6" fill="#e5e6e9" stroke="#a3c9ea" stroke-width="0.7"/>
<ellipse cx="465.5" cy="150.6" rx="9.3" ry="1.35" fill="#ee5747"/>
<line x1="480.10" y1="149.20" x2="560.30" y2="149.20" stroke="#1aa7ea" stroke-width="1.5"/>
<line x1="560.30" y1="149.20" x2="602.60" y2="149.20" stroke="#e8323c" stroke-width="1.5"/>
<path d="M605.6,149.2 l-3.8,-1.9 v3.8 z" fill="#e8323c"/>
<line x1="606.30" y1="97.20" x2="606.30" y2="157.50" stroke="#111" stroke-width="0.9"/>
<text x="608.70" y="114.20" font-size="9.3" stroke="#1c1c1c" stroke-width="0.1">Cell harvest &amp;</text>
<text x="608.70" y="125.70" font-size="9.3" stroke="#1c1c1c" stroke-width="0.1">cell cycle analysis</text>
<text x="608.70" y="136.90" font-size="9.3" stroke="#1c1c1c" stroke-width="0.1">at day 6</text>
<text x="455.30" y="165.60" font-size="9.3" stroke="#1c1c1c" stroke-width="0.1">day:</text>
<text x="485.50" y="165.60" font-size="9.3" text-anchor="middle" stroke="#1c1c1c" stroke-width="0.1">0</text>
<text x="504.80" y="165.60" font-size="9.3" text-anchor="middle" stroke="#1c1c1c" stroke-width="0.1">1</text>
<text x="523.80" y="165.60" font-size="9.3" text-anchor="middle" stroke="#1c1c1c" stroke-width="0.1">2</text>
<text x="542.80" y="165.60" font-size="9.3" text-anchor="middle" stroke="#1c1c1c" stroke-width="0.1">3</text>
<text x="561.80" y="165.60" font-size="9.3" text-anchor="middle" stroke="#1c1c1c" stroke-width="0.1">4</text>
<text x="581.20" y="165.60" font-size="9.3" text-anchor="middle" stroke="#1c1c1c" stroke-width="0.1">5</text>
<text x="600.10" y="165.60" font-size="9.3" text-anchor="middle" stroke="#1c1c1c" stroke-width="0.1">6</text>
<line x1="472.90" y1="191.70" x2="472.90" y2="324.20" stroke="#111" stroke-width="0.9"/>
<line x1="465.80" y1="324.20" x2="604.20" y2="324.20" stroke="#111" stroke-width="0.9"/>
<line x1="465.80" y1="324.20" x2="472.90" y2="324.20" stroke="#111" stroke-width="0.9"/>
<text x="464.60" y="327.50" font-size="9.3" text-anchor="end" stroke="#1c1c1c" stroke-width="0.1">0</text>
<line x1="465.80" y1="297.78" x2="472.90" y2="297.78" stroke="#111" stroke-width="0.9"/>
<text x="464.60" y="301.08" font-size="9.3" text-anchor="end" stroke="#1c1c1c" stroke-width="0.1">5</text>
<line x1="465.80" y1="271.36" x2="472.90" y2="271.36" stroke="#111" stroke-width="0.9"/>
<text x="464.60" y="274.66" font-size="9.3" text-anchor="end" stroke="#1c1c1c" stroke-width="0.1">10</text>
<line x1="465.80" y1="244.94" x2="472.90" y2="244.94" stroke="#111" stroke-width="0.9"/>
<text x="464.60" y="248.24" font-size="9.3" text-anchor="end" stroke="#1c1c1c" stroke-width="0.1">15</text>
<line x1="465.80" y1="218.52" x2="472.90" y2="218.52" stroke="#111" stroke-width="0.9"/>
<text x="464.60" y="221.82" font-size="9.3" text-anchor="end" stroke="#1c1c1c" stroke-width="0.1">20</text>
<line x1="465.80" y1="192.10" x2="472.90" y2="192.10" stroke="#111" stroke-width="0.9"/>
<text x="464.60" y="195.40" font-size="9.3" text-anchor="end" stroke="#1c1c1c" stroke-width="0.1">25</text>
<text x="447.00" y="254.50" font-size="8.9" text-anchor="middle" stroke="#1c1c1c" stroke-width="0.1" transform="rotate(-90 447.00 254.50)">Cells in S-phase on day 6 [%]</text>
<rect x="481.60" y="232.40" width="16.50" height="91.40" fill="#ee3e35"/>
<line x1="489.85" y1="217.30" x2="489.85" y2="248.10" stroke="#111" stroke-width="0.8"/>
<line x1="485.15" y1="217.30" x2="494.55" y2="217.30" stroke="#111" stroke-width="0.8"/>
<line x1="485.15" y1="248.10" x2="494.55" y2="248.10" stroke="#111" stroke-width="0.8"/>
<rect x="506.10" y="231.00" width="16.90" height="92.80" fill="#29a8e0"/>
<line x1="514.55" y1="201.50" x2="514.55" y2="261.80" stroke="#111" stroke-width="0.8"/>
<line x1="509.85" y1="201.50" x2="519.25" y2="201.50" stroke="#111" stroke-width="0.8"/>
<line x1="509.85" y1="261.80" x2="519.25" y2="261.80" stroke="#111" stroke-width="0.8"/>
<rect x="531.40" y="249.90" width="16.10" height="73.90" fill="#29a8e0"/>
<line x1="539.45" y1="237.30" x2="539.45" y2="263.90" stroke="#111" stroke-width="0.8"/>
<line x1="534.75" y1="237.30" x2="544.15" y2="237.30" stroke="#111" stroke-width="0.8"/>
<line x1="534.75" y1="263.90" x2="544.15" y2="263.90" stroke="#111" stroke-width="0.8"/>
<rect x="555.90" y="260.00" width="16.50" height="63.80" fill="#29a8e0"/>
<line x1="564.15" y1="241.50" x2="564.15" y2="279.30" stroke="#111" stroke-width="0.8"/>
<line x1="559.45" y1="241.50" x2="568.85" y2="241.50" stroke="#111" stroke-width="0.8"/>
<line x1="559.45" y1="279.30" x2="568.85" y2="279.30" stroke="#111" stroke-width="0.8"/>
<rect x="580.40" y="312.60" width="16.80" height="11.20" fill="#29a8e0"/>
<line x1="588.80" y1="299.60" x2="588.80" y2="324.20" stroke="#111" stroke-width="0.8"/>
<line x1="584.10" y1="299.60" x2="593.50" y2="299.60" stroke="#111" stroke-width="0.8"/>
<line x1="584.10" y1="324.20" x2="593.50" y2="324.20" stroke="#111" stroke-width="0.8"/>
<circle cx="489.70" cy="209.20" r="2.40" fill="#000"/>
<circle cx="484.40" cy="241.10" r="2.40" fill="#000"/>
<circle cx="489.70" cy="238.70" r="2.40" fill="#000"/>
<circle cx="494.90" cy="241.10" r="2.40" fill="#000"/>
<circle cx="514.50" cy="202.20" r="2.40" fill="#000"/>
<circle cx="514.50" cy="213.80" r="2.40" fill="#000"/>
<circle cx="514.50" cy="238.70" r="2.40" fill="#000"/>
<circle cx="514.50" cy="269.90" r="2.40" fill="#000"/>
<circle cx="539.40" cy="232.40" r="2.40" fill="#000"/>
<circle cx="534.20" cy="251.60" r="2.40" fill="#000"/>
<circle cx="544.70" cy="251.60" r="2.40" fill="#000"/>
<circle cx="539.40" cy="263.60" r="2.40" fill="#000"/>
<circle cx="564.00" cy="233.10" r="2.40" fill="#000"/>
<circle cx="558.70" cy="263.60" r="2.40" fill="#000"/>
<circle cx="569.20" cy="269.20" r="2.40" fill="#000"/>
<circle cx="564.00" cy="274.40" r="2.40" fill="#000"/>
<circle cx="583.20" cy="301.00" r="2.40" fill="#000"/>
<circle cx="593.70" cy="301.00" r="2.40" fill="#000"/>
<circle cx="583.20" cy="324.20" r="2.40" fill="#000"/>
<circle cx="593.70" cy="324.20" r="2.40" fill="#000"/>
<text x="519.20" y="197.30" font-size="8.6" stroke="#1c1c1c" stroke-width="0.1" transform="rotate(-90 519.20 197.30)">P=0.9</text>
<text x="542.60" y="222.60" font-size="8.6" stroke="#1c1c1c" stroke-width="0.1" transform="rotate(-90 542.60 222.60)">P=0.1</text>
<text x="567.80" y="222.60" font-size="8.6" stroke="#1c1c1c" stroke-width="0.1" transform="rotate(-90 567.80 222.60)">P=0.07</text>
<text x="592.40" y="294.40" font-size="8.6" stroke="#1c1c1c" stroke-width="0.1" transform="rotate(-90 592.40 294.40)">P=2×10<tspan font-size="5" dy="-3">-4</tspan></text>
<text x="466.50" y="339.70" font-size="9.3" text-anchor="end" stroke="#1c1c1c" stroke-width="0.1" textLength="87" lengthAdjust="spacingAndGlyphs">Start of dox treatment:</text>
<text x="487.60" y="339.70" font-size="9.3" text-anchor="middle" stroke="#1c1c1c" stroke-width="0.1">d0</text>
<text x="513.50" y="339.70" font-size="9.3" text-anchor="middle" stroke="#1c1c1c" stroke-width="0.1">d1</text>
<text x="538.40" y="339.70" font-size="9.3" text-anchor="middle" stroke="#1c1c1c" stroke-width="0.1">d2</text>
<text x="563.30" y="339.70" font-size="9.3" text-anchor="middle" stroke="#1c1c1c" stroke-width="0.1">d3</text>
<text x="588.10" y="339.70" font-size="9.3" text-anchor="middle" stroke="#1c1c1c" stroke-width="0.1">d4</text>
<text x="591.00" y="401.80" font-size="9.3" text-anchor="middle" stroke="#1c1c1c" stroke-width="0.1">DEPs (day4 vs day0)</text>
<line x1="517.60" y1="405.40" x2="664.00" y2="405.40" stroke="#000" stroke-width="1.5"/>
<text x="505.10" y="423.50" font-size="9.1" text-anchor="end" font-weight="bold">Complexes</text>
<text x="557.00" y="421.80" font-size="9.3" text-anchor="middle" stroke="#1c1c1c" stroke-width="0.1">Downregulated</text>
<text x="641.60" y="421.80" font-size="9.3" text-anchor="middle" stroke="#1c1c1c" stroke-width="0.1">Upregulated</text>
<line x1="515.50" y1="430.50" x2="515.50" y2="785.30" stroke="#222" stroke-width="1.0"/>
<line x1="598.40" y1="430.50" x2="598.40" y2="785.30" stroke="#222" stroke-width="1.0"/>
<line x1="515.00" y1="785.30" x2="660.80" y2="785.30" stroke="#222" stroke-width="1.0"/>
<line x1="520.10" y1="785.00" x2="520.10" y2="787.60" stroke="#222" stroke-width="0.9"/>
<text x="518.80" y="797.90" font-size="8.9" text-anchor="middle" stroke="#1c1c1c" stroke-width="0.1">−3</text>
<line x1="546.20" y1="785.00" x2="546.20" y2="787.60" stroke="#222" stroke-width="0.9"/>
<text x="544.90" y="797.90" font-size="8.9" text-anchor="middle" stroke="#1c1c1c" stroke-width="0.1">−2</text>
<line x1="572.30" y1="785.00" x2="572.30" y2="787.60" stroke="#222" stroke-width="0.9"/>
<text x="571.00" y="797.90" font-size="8.9" text-anchor="middle" stroke="#1c1c1c" stroke-width="0.1">−1</text>
<line x1="598.40" y1="785.00" x2="598.40" y2="787.60" stroke="#222" stroke-width="0.9"/>
<text x="598.40" y="797.90" font-size="8.9" text-anchor="middle" stroke="#1c1c1c" stroke-width="0.1">0</text>
<line x1="624.50" y1="785.00" x2="624.50" y2="787.60" stroke="#222" stroke-width="0.9"/>
<text x="624.50" y="797.90" font-size="8.9" text-anchor="middle" stroke="#1c1c1c" stroke-width="0.1">1</text>
<line x1="650.60" y1="785.00" x2="650.60" y2="787.60" stroke="#222" stroke-width="0.9"/>
<text x="650.60" y="797.90" font-size="8.9" text-anchor="middle" stroke="#1c1c1c" stroke-width="0.1">2</text>
<text x="597.80" y="807.20" font-size="8.9" text-anchor="middle" stroke="#1c1c1c" stroke-width="0.1">NES</text>
<line x1="511.90" y1="438.50" x2="515.40" y2="438.50" stroke="#222" stroke-width="0.8"/>
<circle cx="522.10" cy="438.50" r="7.60" fill="#fbc6b1" stroke="#111" stroke-width="0.8"/>
<text x="505.10" y="441.80" font-size="9.3" text-anchor="end" stroke="#1c1c1c" stroke-width="0.1" xml:space="preserve">39S mito. large ribosomal subunit</text>
<line x1="511.90" y1="451.54" x2="515.40" y2="451.54" stroke="#222" stroke-width="0.8"/>
<circle cx="531.60" cy="451.54" r="6.20" fill="#fbc3ae" stroke="#111" stroke-width="0.8"/>
<text x="505.10" y="454.84" font-size="9.3" text-anchor="end" stroke="#1c1c1c" stroke-width="0.1" xml:space="preserve">40S cytosolic small ribosomal subunit</text>
<line x1="511.90" y1="464.58" x2="515.40" y2="464.58" stroke="#222" stroke-width="0.8"/>
<circle cx="535.40" cy="464.58" r="5.90" fill="#ec6647" stroke="#111" stroke-width="0.8"/>
<text x="505.10" y="467.88" font-size="9.3" text-anchor="end" stroke="#1c1c1c" stroke-width="0.1" xml:space="preserve">Nuclear pore </text>
<line x1="511.90" y1="477.62" x2="515.40" y2="477.62" stroke="#222" stroke-width="0.8"/>
<circle cx="535.40" cy="477.62" r="6.20" fill="#f7a78c" stroke="#111" stroke-width="0.8"/>
<text x="505.10" y="480.92" font-size="9.3" text-anchor="end" stroke="#1c1c1c" stroke-width="0.1" xml:space="preserve">Small ribosomal subunit processome</text>
<line x1="511.90" y1="490.66" x2="515.40" y2="490.66" stroke="#222" stroke-width="0.8"/>
<circle cx="541.90" cy="490.66" r="6.50" fill="#fbc8b4" stroke="#111" stroke-width="0.8"/>
<text x="505.10" y="493.96" font-size="9.3" text-anchor="end" stroke="#1c1c1c" stroke-width="0.1" xml:space="preserve">60S cytosolic large ribosomal subunit</text>
<line x1="511.90" y1="503.70" x2="515.40" y2="503.70" stroke="#222" stroke-width="0.8"/>
<circle cx="543.20" cy="503.70" r="6.20" fill="#f38767" stroke="#111" stroke-width="0.8"/>
<text x="505.10" y="507.00" font-size="9.3" text-anchor="end" stroke="#1c1c1c" stroke-width="0.1" xml:space="preserve">U4/U6.U5 small nuclear ribonucleoprotein </text>
<line x1="511.90" y1="516.74" x2="515.40" y2="516.74" stroke="#222" stroke-width="0.8"/>
<circle cx="551.30" cy="516.74" r="3.00" fill="#fcd6c6" stroke="#111" stroke-width="0.8"/>
<text x="505.10" y="520.04" font-size="9.3" text-anchor="end" stroke="#1c1c1c" stroke-width="0.1" xml:space="preserve">TOM40 mito. outer membrane translocase </text>
<line x1="511.90" y1="529.78" x2="515.40" y2="529.78" stroke="#222" stroke-width="0.8"/>
<circle cx="551.60" cy="529.78" r="4.00" fill="#fddfd2" stroke="#111" stroke-width="0.8"/>
<text x="505.10" y="533.08" font-size="9.3" text-anchor="end" stroke="#1c1c1c" stroke-width="0.1" xml:space="preserve">TFTC histone acetylation </text>
<line x1="511.90" y1="542.82" x2="515.40" y2="542.82" stroke="#222" stroke-width="0.8"/>
<circle cx="552.10" cy="542.82" r="6.50" fill="#fde0d4" stroke="#111" stroke-width="0.8"/>
<text x="505.10" y="546.12" font-size="9.3" text-anchor="end" stroke="#1c1c1c" stroke-width="0.1" xml:space="preserve">Mitochondrial respiratory chain  I</text>
<line x1="511.90" y1="555.86" x2="515.40" y2="555.86" stroke="#222" stroke-width="0.8"/>
<circle cx="552.40" cy="555.86" r="5.40" fill="#f7a78c" stroke="#111" stroke-width="0.8"/>
<text x="505.10" y="559.16" font-size="9.3" text-anchor="end" stroke="#1c1c1c" stroke-width="0.1" xml:space="preserve">U2 small nuclear ribonucleoprotein </text>
<line x1="511.90" y1="568.90" x2="515.40" y2="568.90" stroke="#222" stroke-width="0.8"/>
<circle cx="553.20" cy="568.90" r="4.00" fill="#fddccf" stroke="#111" stroke-width="0.8"/>
<text x="505.10" y="572.20" font-size="9.3" text-anchor="end" stroke="#1c1c1c" stroke-width="0.1" xml:space="preserve">General transcription factor  TFIID</text>
<line x1="511.90" y1="581.94" x2="515.40" y2="581.94" stroke="#222" stroke-width="0.8"/>
<circle cx="553.50" cy="581.94" r="3.30" fill="#9c171d" stroke="#111" stroke-width="0.8"/>
<text x="505.10" y="585.24" font-size="9.3" text-anchor="end" stroke="#1c1c1c" stroke-width="0.1" xml:space="preserve">NSL histone acetyltransferase </text>
<line x1="511.90" y1="594.98" x2="515.40" y2="594.98" stroke="#222" stroke-width="0.8"/>
<circle cx="553.70" cy="594.98" r="3.30" fill="#f16b4d" stroke="#111" stroke-width="0.8"/>
<text x="505.10" y="598.28" font-size="9.3" text-anchor="end" stroke="#1c1c1c" stroke-width="0.1" xml:space="preserve">General transcription factor TFIIH </text>
<line x1="511.90" y1="608.02" x2="515.40" y2="608.02" stroke="#222" stroke-width="0.8"/>
<circle cx="554.00" cy="608.02" r="3.00" fill="#d82a26" stroke="#111" stroke-width="0.8"/>
<text x="505.10" y="611.32" font-size="9.3" text-anchor="end" stroke="#1c1c1c" stroke-width="0.1" xml:space="preserve">UTP−A</text>
<line x1="511.90" y1="621.06" x2="515.40" y2="621.06" stroke="#222" stroke-width="0.8"/>
<circle cx="554.50" cy="621.06" r="4.30" fill="#f5906f" stroke="#111" stroke-width="0.8"/>
<text x="505.10" y="624.36" font-size="9.3" text-anchor="end" stroke="#1c1c1c" stroke-width="0.1" xml:space="preserve">NuA4 histone acetyltransferase </text>
<line x1="511.90" y1="634.10" x2="515.40" y2="634.10" stroke="#222" stroke-width="0.8"/>
<circle cx="555.10" cy="634.10" r="3.20" fill="#fdd5c5" stroke="#111" stroke-width="0.8"/>
<text x="505.10" y="637.40" font-size="9.3" text-anchor="end" stroke="#1c1c1c" stroke-width="0.1" xml:space="preserve">Telomerase holoenzyme </text>
<line x1="511.90" y1="647.14" x2="515.40" y2="647.14" stroke="#222" stroke-width="0.8"/>
<circle cx="555.10" cy="647.14" r="1.60" fill="#fde0d3" stroke="#111" stroke-width="0.8"/>
<text x="505.10" y="650.44" font-size="9.3" text-anchor="end" stroke="#1c1c1c" stroke-width="0.1" xml:space="preserve">Little elongation </text>
<line x1="511.90" y1="660.18" x2="515.40" y2="660.18" stroke="#222" stroke-width="0.8"/>
<circle cx="555.40" cy="660.18" r="3.50" fill="#fdd5c5" stroke="#111" stroke-width="0.8"/>
<text x="505.10" y="663.48" font-size="9.3" text-anchor="end" stroke="#1c1c1c" stroke-width="0.1" xml:space="preserve">Mitochondrial respiratory chain  IV</text>
<line x1="511.90" y1="673.22" x2="515.40" y2="673.22" stroke="#222" stroke-width="0.8"/>
<circle cx="555.90" cy="673.22" r="6.00" fill="#fbc5b0" stroke="#111" stroke-width="0.8"/>
<text x="505.10" y="676.52" font-size="9.3" text-anchor="end" stroke="#1c1c1c" stroke-width="0.1" xml:space="preserve">28S mitochondrial small ribosomal subunit</text>
<line x1="511.90" y1="686.26" x2="515.40" y2="686.26" stroke="#222" stroke-width="0.8"/>
<circle cx="555.90" cy="686.26" r="4.60" fill="#f4886a" stroke="#111" stroke-width="0.8"/>
<text x="505.10" y="689.56" font-size="9.3" text-anchor="end" stroke="#1c1c1c" stroke-width="0.1" xml:space="preserve">TREX transcription−export </text>
<line x1="511.90" y1="699.30" x2="515.40" y2="699.30" stroke="#222" stroke-width="0.8"/>
<circle cx="556.70" cy="699.30" r="2.70" fill="#e03a2e" stroke="#111" stroke-width="0.8"/>
<text x="502.70" y="698.20" font-size="9.3" text-anchor="end" stroke="#1c1c1c" stroke-width="0.1">TIM22 mito. inner memb.</text>
<text x="502.70" y="705.40" font-size="9.3" text-anchor="end" stroke="#1c1c1c" stroke-width="0.1">twin−pore carrier translocase</text>
<line x1="511.90" y1="712.34" x2="515.40" y2="712.34" stroke="#222" stroke-width="0.8"/>
<circle cx="637.20" cy="712.34" r="1.70" fill="#fbc9b5" stroke="#111" stroke-width="0.8"/>
<text x="505.10" y="715.64" font-size="9.3" text-anchor="end" stroke="#1c1c1c" stroke-width="0.1" xml:space="preserve">XRCC1 DNA repair </text>
<line x1="511.90" y1="725.38" x2="515.40" y2="725.38" stroke="#222" stroke-width="0.8"/>
<circle cx="639.30" cy="725.38" r="1.40" fill="#f26d4f" stroke="#111" stroke-width="0.8"/>
<text x="505.10" y="728.68" font-size="9.3" text-anchor="end" stroke="#1c1c1c" stroke-width="0.1" xml:space="preserve">Cytoplasmic dynein </text>
<line x1="511.90" y1="738.42" x2="515.40" y2="738.42" stroke="#222" stroke-width="0.8"/>
<circle cx="640.20" cy="738.42" r="3.00" fill="#e9573f" stroke="#111" stroke-width="0.8"/>
<text x="505.10" y="741.72" font-size="9.3" text-anchor="end" stroke="#1c1c1c" stroke-width="0.1" xml:space="preserve">Exocyst</text>
<line x1="511.90" y1="751.46" x2="515.40" y2="751.46" stroke="#222" stroke-width="0.8"/>
<circle cx="641.20" cy="751.46" r="3.50" fill="#fdd5c5" stroke="#111" stroke-width="0.8"/>
<text x="505.10" y="754.76" font-size="9.3" text-anchor="end" stroke="#1c1c1c" stroke-width="0.1" xml:space="preserve">Commander</text>
<line x1="511.90" y1="764.50" x2="515.40" y2="764.50" stroke="#222" stroke-width="0.8"/>
<circle cx="651.80" cy="764.50" r="3.60" fill="#e85840" stroke="#111" stroke-width="0.8"/>
<text x="505.10" y="767.80" font-size="9.3" text-anchor="end" stroke="#1c1c1c" stroke-width="0.1" xml:space="preserve">COG tethering </text>
<line x1="511.90" y1="777.54" x2="515.40" y2="777.54" stroke="#222" stroke-width="0.8"/>
<circle cx="653.90" cy="777.54" r="5.70" fill="#fbc0aa" stroke="#111" stroke-width="0.8"/>
<text x="505.10" y="780.84" font-size="9.3" text-anchor="end" stroke="#1c1c1c" stroke-width="0.1" xml:space="preserve">26S Proteasome </text>
<text x="418.10" y="847.40" font-size="10.3" stroke="#1c1c1c" stroke-width="0.1">Subunits</text>
<circle cx="471.20" cy="844.90" r="3.20" fill="#fff" stroke="#111" stroke-width="0.9"/>
<text x="472.40" y="832.80" font-size="8.2" text-anchor="middle" stroke="#1c1c1c" stroke-width="0.1">10</text>
<circle cx="487.60" cy="844.90" r="4.40" fill="#fff" stroke="#111" stroke-width="0.9"/>
<text x="488.80" y="832.80" font-size="8.2" text-anchor="middle" stroke="#1c1c1c" stroke-width="0.1">20</text>
<circle cx="504.20" cy="844.90" r="5.40" fill="#fff" stroke="#111" stroke-width="0.9"/>
<text x="505.40" y="832.80" font-size="8.2" text-anchor="middle" stroke="#1c1c1c" stroke-width="0.1">30</text>
<circle cx="520.80" cy="844.90" r="6.50" fill="#fff" stroke="#111" stroke-width="0.9"/>
<text x="522.00" y="832.80" font-size="8.2" text-anchor="middle" stroke="#1c1c1c" stroke-width="0.1">40</text>
<text x="595.30" y="823.00" font-size="10.5" text-anchor="middle" stroke="#1c1c1c" stroke-width="0.1">Subunits with</text>
<text x="595.60" y="835.00" font-size="10.5" text-anchor="middle" stroke="#1c1c1c" stroke-width="0.1">shortened 3'-UTR [%]</text>
<rect x="553.90" y="840.60" width="83.20" height="7.50" fill="url(#gr)" stroke="#444" stroke-width="0.7"/>
<line x1="554.60" y1="848.50" x2="554.60" y2="850.30" stroke="#333" stroke-width="0.6"/>
<text x="556.80" y="860.90" font-size="8.2" text-anchor="middle" stroke="#1c1c1c" stroke-width="0.1">0.0</text>
<line x1="575.10" y1="848.50" x2="575.10" y2="850.30" stroke="#333" stroke-width="0.6"/>
<text x="575.40" y="860.90" font-size="8.2" text-anchor="middle" stroke="#1c1c1c" stroke-width="0.1">20</text>
<line x1="594.80" y1="848.50" x2="594.80" y2="850.30" stroke="#333" stroke-width="0.6"/>
<text x="595.10" y="860.90" font-size="8.2" text-anchor="middle" stroke="#1c1c1c" stroke-width="0.1">40</text>
<line x1="614.50" y1="848.50" x2="614.50" y2="850.30" stroke="#333" stroke-width="0.6"/>
<text x="614.80" y="860.90" font-size="8.2" text-anchor="middle" stroke="#1c1c1c" stroke-width="0.1">60</text>
<line x1="633.70" y1="848.50" x2="633.70" y2="850.30" stroke="#333" stroke-width="0.6"/>
<text x="634.00" y="860.90" font-size="8.2" text-anchor="middle" stroke="#1c1c1c" stroke-width="0.1">80</text>
</svg>
</body></html>
